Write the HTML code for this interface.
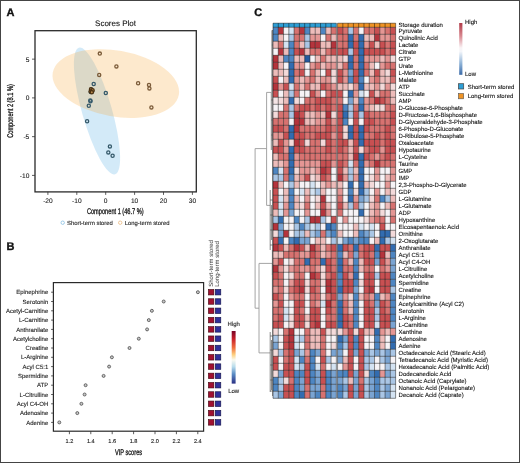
<!DOCTYPE html>
<html><head><meta charset="utf-8"><title>Figure</title>
<style>html,body{margin:0;padding:0;background:#fff;}body{width:520px;height:463px;overflow:hidden;font-family:"Liberation Sans", sans-serif;}svg{display:block;-webkit-font-smoothing:antialiased;will-change:transform;filter:blur(0.25px);}text{text-rendering:geometricPrecision;}</style>
</head><body>
<svg width="520" height="463" viewBox="0 0 520 463" font-family='"Liberation Sans", sans-serif'><rect x="0" y="0" width="520" height="463" fill="#fff"/><text x="6.60" y="16.00" font-size="11" text-anchor="start" font-weight="bold" fill="#111" stroke="#111" stroke-width="0.35" >A</text><text x="115.50" y="25.60" font-size="8" text-anchor="middle" font-weight="normal" fill="#111" stroke="#111" stroke-width="0.1" >Scores Plot</text><ellipse cx="97" cy="111" rx="65.8" ry="14.9" transform="rotate(74 97 111)" fill="#4fabe3" fill-opacity="0.25"/><ellipse cx="115.8" cy="83.6" rx="64" ry="33" transform="rotate(10 115.8 83.6)" fill="#f7a638" fill-opacity="0.25"/><circle cx="93.7" cy="84" r="1.6" fill="none" stroke="#35596a" stroke-width="1.3"/><circle cx="105.8" cy="93" r="1.6" fill="none" stroke="#35596a" stroke-width="1.3"/><circle cx="90.3" cy="100.4" r="1.6" fill="none" stroke="#35596a" stroke-width="1.3"/><circle cx="90.5" cy="101.2" r="1.6" fill="none" stroke="#35596a" stroke-width="1.3"/><circle cx="88.8" cy="105.7" r="1.6" fill="none" stroke="#35596a" stroke-width="1.3"/><circle cx="87.1" cy="121.2" r="1.6" fill="none" stroke="#35596a" stroke-width="1.3"/><circle cx="109.9" cy="146.4" r="1.6" fill="none" stroke="#35596a" stroke-width="1.3"/><circle cx="108.3" cy="152.4" r="1.6" fill="none" stroke="#35596a" stroke-width="1.3"/><circle cx="112.6" cy="155.8" r="1.6" fill="none" stroke="#35596a" stroke-width="1.3"/><circle cx="91.2" cy="89.6" r="1.6" fill="none" stroke="#35596a" stroke-width="1.3"/><circle cx="92.2" cy="91.5" r="1.6" fill="none" stroke="#35596a" stroke-width="1.3"/><circle cx="90.8" cy="92.0" r="1.6" fill="none" stroke="#35596a" stroke-width="1.3"/><circle cx="99.8" cy="53.6" r="1.6" fill="none" stroke="#7a5a38" stroke-width="1.3"/><circle cx="116.4" cy="66.4" r="1.6" fill="none" stroke="#7a5a38" stroke-width="1.3"/><circle cx="99.2" cy="74.9" r="1.6" fill="none" stroke="#7a5a38" stroke-width="1.3"/><circle cx="138.1" cy="83.2" r="1.6" fill="none" stroke="#7a5a38" stroke-width="1.3"/><circle cx="149" cy="84.9" r="1.6" fill="none" stroke="#7a5a38" stroke-width="1.3"/><circle cx="149.4" cy="88.4" r="1.6" fill="none" stroke="#7a5a38" stroke-width="1.3"/><circle cx="151.4" cy="107.4" r="1.6" fill="none" stroke="#7a5a38" stroke-width="1.3"/><circle cx="91.0" cy="89.3" r="1.6" fill="#b88a50" stroke="#4a3012" stroke-width="1.3"/><circle cx="92.6" cy="90.2" r="1.6" fill="#b88a50" stroke="#4a3012" stroke-width="1.3"/><circle cx="90.6" cy="91.6" r="1.6" fill="#b88a50" stroke="#4a3012" stroke-width="1.3"/><circle cx="91.8" cy="92.3" r="1.6" fill="#b88a50" stroke="#4a3012" stroke-width="1.3"/><rect x="35.0" y="30.7" width="161.3" height="161.20000000000002" fill="none" stroke="#2a2a2a" stroke-width="1.3"/><line x1="47.90" y1="191.9" x2="47.90" y2="194.9" stroke="#333" stroke-width="0.8"/><text x="47.90" y="203.30" font-size="6.6" text-anchor="middle" font-weight="normal" fill="#1a1a1a" stroke="#1a1a1a" stroke-width="0.1" >-20</text><line x1="76.80" y1="191.9" x2="76.80" y2="194.9" stroke="#333" stroke-width="0.8"/><text x="76.80" y="203.30" font-size="6.6" text-anchor="middle" font-weight="normal" fill="#1a1a1a" stroke="#1a1a1a" stroke-width="0.1" >-10</text><line x1="105.70" y1="191.9" x2="105.70" y2="194.9" stroke="#333" stroke-width="0.8"/><text x="105.70" y="203.30" font-size="6.6" text-anchor="middle" font-weight="normal" fill="#1a1a1a" stroke="#1a1a1a" stroke-width="0.1" >0</text><line x1="134.60" y1="191.9" x2="134.60" y2="194.9" stroke="#333" stroke-width="0.8"/><text x="134.60" y="203.30" font-size="6.6" text-anchor="middle" font-weight="normal" fill="#1a1a1a" stroke="#1a1a1a" stroke-width="0.1" >10</text><line x1="163.50" y1="191.9" x2="163.50" y2="194.9" stroke="#333" stroke-width="0.8"/><text x="163.50" y="203.30" font-size="6.6" text-anchor="middle" font-weight="normal" fill="#1a1a1a" stroke="#1a1a1a" stroke-width="0.1" >20</text><line x1="192.40" y1="191.9" x2="192.40" y2="194.9" stroke="#333" stroke-width="0.8"/><text x="192.40" y="203.30" font-size="6.6" text-anchor="middle" font-weight="normal" fill="#1a1a1a" stroke="#1a1a1a" stroke-width="0.1" >30</text><line x1="32.0" y1="59.15" x2="35.0" y2="59.15" stroke="#333" stroke-width="0.8"/><text x="29.30" y="61.53" font-size="6.6" text-anchor="end" font-weight="normal" fill="#1a1a1a" stroke="#1a1a1a" stroke-width="0.1" >5</text><line x1="32.0" y1="97.90" x2="35.0" y2="97.90" stroke="#333" stroke-width="0.8"/><text x="29.30" y="100.28" font-size="6.6" text-anchor="end" font-weight="normal" fill="#1a1a1a" stroke="#1a1a1a" stroke-width="0.1" >0</text><line x1="32.0" y1="136.65" x2="35.0" y2="136.65" stroke="#333" stroke-width="0.8"/><text x="29.30" y="139.03" font-size="6.6" text-anchor="end" font-weight="normal" fill="#1a1a1a" stroke="#1a1a1a" stroke-width="0.1" >-5</text><line x1="32.0" y1="175.40" x2="35.0" y2="175.40" stroke="#333" stroke-width="0.8"/><text x="29.30" y="177.78" font-size="6.6" text-anchor="end" font-weight="normal" fill="#1a1a1a" stroke="#1a1a1a" stroke-width="0.1" >-10</text><text x="169.56" y="213.9" font-size="8.3" text-anchor="middle" fill="#111" stroke="#111" stroke-width="0.3" transform="scale(0.68,1)">Component 1 (46.7 %)</text><g transform="translate(13.0,111.0) rotate(-90) scale(0.68,1)"><text x="0" y="0" font-size="8.3" text-anchor="middle" fill="#111" stroke="#111" stroke-width="0.3">Component 2 (8.1 %)</text></g><circle cx="62.7" cy="222.7" r="1.7" fill="none" stroke="#7ab8e0" stroke-width="0.7"/><text x="67.00" y="224.80" font-size="5.9" text-anchor="start" font-weight="normal" fill="#1a1a1a" stroke="#1a1a1a" stroke-width="0.1" >Short-term stored</text><circle cx="120.2" cy="222.7" r="1.7" fill="none" stroke="#e8b070" stroke-width="0.7"/><text x="124.70" y="224.80" font-size="5.9" text-anchor="start" font-weight="normal" fill="#1a1a1a" stroke="#1a1a1a" stroke-width="0.1" >Long-term stored</text><text x="6.60" y="250.20" font-size="11" text-anchor="start" font-weight="bold" fill="#111" stroke="#111" stroke-width="0.35" >B</text><line x1="51.1" y1="292.20" x2="53.4" y2="292.20" stroke="#333" stroke-width="0.8"/><text x="48.30" y="294.36" font-size="6.0" text-anchor="end" font-weight="normal" fill="#1a1a1a" stroke="#1a1a1a" stroke-width="0.1" >Epinephrine</text><circle cx="197.9" cy="292.20" r="1.5" fill="#c8c8c8" stroke="#444" stroke-width="0.75"/><rect x="208.4" y="289.45" width="5.5" height="5.5" fill="#a01030" stroke="#40060f" stroke-width="0.6"/><rect x="215.3" y="289.45" width="5.5" height="5.5" fill="#30309a" stroke="#121244" stroke-width="0.6"/><line x1="51.1" y1="301.50" x2="53.4" y2="301.50" stroke="#333" stroke-width="0.8"/><text x="48.30" y="303.66" font-size="6.0" text-anchor="end" font-weight="normal" fill="#1a1a1a" stroke="#1a1a1a" stroke-width="0.1" >Serotonin</text><circle cx="163.7" cy="301.50" r="1.5" fill="#c8c8c8" stroke="#444" stroke-width="0.75"/><rect x="208.4" y="298.75" width="5.5" height="5.5" fill="#a01030" stroke="#40060f" stroke-width="0.6"/><rect x="215.3" y="298.75" width="5.5" height="5.5" fill="#30309a" stroke="#121244" stroke-width="0.6"/><line x1="51.1" y1="310.80" x2="53.4" y2="310.80" stroke="#333" stroke-width="0.8"/><text x="48.30" y="312.96" font-size="6.0" text-anchor="end" font-weight="normal" fill="#1a1a1a" stroke="#1a1a1a" stroke-width="0.1" >Acetyl-Carnitine</text><circle cx="151.9" cy="310.80" r="1.5" fill="#c8c8c8" stroke="#444" stroke-width="0.75"/><rect x="208.4" y="308.05" width="5.5" height="5.5" fill="#a01030" stroke="#40060f" stroke-width="0.6"/><rect x="215.3" y="308.05" width="5.5" height="5.5" fill="#30309a" stroke="#121244" stroke-width="0.6"/><line x1="51.1" y1="320.10" x2="53.4" y2="320.10" stroke="#333" stroke-width="0.8"/><text x="48.30" y="322.26" font-size="6.0" text-anchor="end" font-weight="normal" fill="#1a1a1a" stroke="#1a1a1a" stroke-width="0.1" >L-Carnitine</text><circle cx="148.8" cy="320.10" r="1.5" fill="#c8c8c8" stroke="#444" stroke-width="0.75"/><rect x="208.4" y="317.35" width="5.5" height="5.5" fill="#a01030" stroke="#40060f" stroke-width="0.6"/><rect x="215.3" y="317.35" width="5.5" height="5.5" fill="#30309a" stroke="#121244" stroke-width="0.6"/><line x1="51.1" y1="329.40" x2="53.4" y2="329.40" stroke="#333" stroke-width="0.8"/><text x="48.30" y="331.56" font-size="6.0" text-anchor="end" font-weight="normal" fill="#1a1a1a" stroke="#1a1a1a" stroke-width="0.1" >Anthranilate</text><circle cx="147.1" cy="329.40" r="1.5" fill="#c8c8c8" stroke="#444" stroke-width="0.75"/><rect x="208.4" y="326.65" width="5.5" height="5.5" fill="#a01030" stroke="#40060f" stroke-width="0.6"/><rect x="215.3" y="326.65" width="5.5" height="5.5" fill="#30309a" stroke="#121244" stroke-width="0.6"/><line x1="51.1" y1="338.70" x2="53.4" y2="338.70" stroke="#333" stroke-width="0.8"/><text x="48.30" y="340.86" font-size="6.0" text-anchor="end" font-weight="normal" fill="#1a1a1a" stroke="#1a1a1a" stroke-width="0.1" >Acetylcholine</text><circle cx="138.8" cy="338.70" r="1.5" fill="#c8c8c8" stroke="#444" stroke-width="0.75"/><rect x="208.4" y="335.95" width="5.5" height="5.5" fill="#a01030" stroke="#40060f" stroke-width="0.6"/><rect x="215.3" y="335.95" width="5.5" height="5.5" fill="#30309a" stroke="#121244" stroke-width="0.6"/><line x1="51.1" y1="348.00" x2="53.4" y2="348.00" stroke="#333" stroke-width="0.8"/><text x="48.30" y="350.16" font-size="6.0" text-anchor="end" font-weight="normal" fill="#1a1a1a" stroke="#1a1a1a" stroke-width="0.1" >Creatine</text><circle cx="129.5" cy="348.00" r="1.5" fill="#c8c8c8" stroke="#444" stroke-width="0.75"/><rect x="208.4" y="345.25" width="5.5" height="5.5" fill="#a01030" stroke="#40060f" stroke-width="0.6"/><rect x="215.3" y="345.25" width="5.5" height="5.5" fill="#30309a" stroke="#121244" stroke-width="0.6"/><line x1="51.1" y1="357.30" x2="53.4" y2="357.30" stroke="#333" stroke-width="0.8"/><text x="48.30" y="359.46" font-size="6.0" text-anchor="end" font-weight="normal" fill="#1a1a1a" stroke="#1a1a1a" stroke-width="0.1" >L-Arginine</text><circle cx="111.9" cy="357.30" r="1.5" fill="#c8c8c8" stroke="#444" stroke-width="0.75"/><rect x="208.4" y="354.55" width="5.5" height="5.5" fill="#a01030" stroke="#40060f" stroke-width="0.6"/><rect x="215.3" y="354.55" width="5.5" height="5.5" fill="#30309a" stroke="#121244" stroke-width="0.6"/><line x1="51.1" y1="366.60" x2="53.4" y2="366.60" stroke="#333" stroke-width="0.8"/><text x="48.30" y="368.76" font-size="6.0" text-anchor="end" font-weight="normal" fill="#1a1a1a" stroke="#1a1a1a" stroke-width="0.1" >Acyl C5:1</text><circle cx="109.1" cy="366.60" r="1.5" fill="#c8c8c8" stroke="#444" stroke-width="0.75"/><rect x="208.4" y="363.85" width="5.5" height="5.5" fill="#a01030" stroke="#40060f" stroke-width="0.6"/><rect x="215.3" y="363.85" width="5.5" height="5.5" fill="#30309a" stroke="#121244" stroke-width="0.6"/><line x1="51.1" y1="375.90" x2="53.4" y2="375.90" stroke="#333" stroke-width="0.8"/><text x="48.30" y="378.06" font-size="6.0" text-anchor="end" font-weight="normal" fill="#1a1a1a" stroke="#1a1a1a" stroke-width="0.1" >Spermidine</text><circle cx="103.6" cy="375.90" r="1.5" fill="#c8c8c8" stroke="#444" stroke-width="0.75"/><rect x="208.4" y="373.15" width="5.5" height="5.5" fill="#a01030" stroke="#40060f" stroke-width="0.6"/><rect x="215.3" y="373.15" width="5.5" height="5.5" fill="#30309a" stroke="#121244" stroke-width="0.6"/><line x1="51.1" y1="385.20" x2="53.4" y2="385.20" stroke="#333" stroke-width="0.8"/><text x="48.30" y="387.36" font-size="6.0" text-anchor="end" font-weight="normal" fill="#1a1a1a" stroke="#1a1a1a" stroke-width="0.1" >ATP</text><circle cx="85.6" cy="385.20" r="1.5" fill="#c8c8c8" stroke="#444" stroke-width="0.75"/><rect x="208.4" y="382.45" width="5.5" height="5.5" fill="#a01030" stroke="#40060f" stroke-width="0.6"/><rect x="215.3" y="382.45" width="5.5" height="5.5" fill="#30309a" stroke="#121244" stroke-width="0.6"/><line x1="51.1" y1="394.50" x2="53.4" y2="394.50" stroke="#333" stroke-width="0.8"/><text x="48.30" y="396.66" font-size="6.0" text-anchor="end" font-weight="normal" fill="#1a1a1a" stroke="#1a1a1a" stroke-width="0.1" >L-Citrulline</text><circle cx="84.6" cy="394.50" r="1.5" fill="#c8c8c8" stroke="#444" stroke-width="0.75"/><rect x="208.4" y="391.75" width="5.5" height="5.5" fill="#a01030" stroke="#40060f" stroke-width="0.6"/><rect x="215.3" y="391.75" width="5.5" height="5.5" fill="#30309a" stroke="#121244" stroke-width="0.6"/><line x1="51.1" y1="403.80" x2="53.4" y2="403.80" stroke="#333" stroke-width="0.8"/><text x="48.30" y="405.96" font-size="6.0" text-anchor="end" font-weight="normal" fill="#1a1a1a" stroke="#1a1a1a" stroke-width="0.1" >Acyl C4-OH</text><circle cx="81.4" cy="403.80" r="1.5" fill="#c8c8c8" stroke="#444" stroke-width="0.75"/><rect x="208.4" y="401.05" width="5.5" height="5.5" fill="#a01030" stroke="#40060f" stroke-width="0.6"/><rect x="215.3" y="401.05" width="5.5" height="5.5" fill="#30309a" stroke="#121244" stroke-width="0.6"/><line x1="51.1" y1="413.10" x2="53.4" y2="413.10" stroke="#333" stroke-width="0.8"/><text x="48.30" y="415.26" font-size="6.0" text-anchor="end" font-weight="normal" fill="#1a1a1a" stroke="#1a1a1a" stroke-width="0.1" >Adenosine</text><circle cx="77.3" cy="413.10" r="1.5" fill="#c8c8c8" stroke="#444" stroke-width="0.75"/><rect x="208.4" y="410.35" width="5.5" height="5.5" fill="#a01030" stroke="#40060f" stroke-width="0.6"/><rect x="215.3" y="410.35" width="5.5" height="5.5" fill="#30309a" stroke="#121244" stroke-width="0.6"/><line x1="51.1" y1="422.40" x2="53.4" y2="422.40" stroke="#333" stroke-width="0.8"/><text x="48.30" y="424.56" font-size="6.0" text-anchor="end" font-weight="normal" fill="#1a1a1a" stroke="#1a1a1a" stroke-width="0.1" >Adenine</text><circle cx="59.3" cy="422.40" r="1.5" fill="#c8c8c8" stroke="#444" stroke-width="0.75"/><rect x="208.4" y="419.65" width="5.5" height="5.5" fill="#a01030" stroke="#40060f" stroke-width="0.6"/><rect x="215.3" y="419.65" width="5.5" height="5.5" fill="#30309a" stroke="#121244" stroke-width="0.6"/><rect x="53.4" y="282.6" width="150.2" height="148.59999999999997" fill="none" stroke="#2a2a2a" stroke-width="1.2"/><line x1="69.40" y1="431.2" x2="69.40" y2="434.2" stroke="#333" stroke-width="0.8"/><text x="69.40" y="442.60" font-size="5.6" text-anchor="middle" font-weight="normal" fill="#1a1a1a" stroke="#1a1a1a" stroke-width="0.1" >1.2</text><line x1="90.80" y1="431.2" x2="90.80" y2="434.2" stroke="#333" stroke-width="0.8"/><text x="90.80" y="442.60" font-size="5.6" text-anchor="middle" font-weight="normal" fill="#1a1a1a" stroke="#1a1a1a" stroke-width="0.1" >1.4</text><line x1="112.20" y1="431.2" x2="112.20" y2="434.2" stroke="#333" stroke-width="0.8"/><text x="112.20" y="442.60" font-size="5.6" text-anchor="middle" font-weight="normal" fill="#1a1a1a" stroke="#1a1a1a" stroke-width="0.1" >1.6</text><line x1="133.60" y1="431.2" x2="133.60" y2="434.2" stroke="#333" stroke-width="0.8"/><text x="133.60" y="442.60" font-size="5.6" text-anchor="middle" font-weight="normal" fill="#1a1a1a" stroke="#1a1a1a" stroke-width="0.1" >1.8</text><line x1="155.00" y1="431.2" x2="155.00" y2="434.2" stroke="#333" stroke-width="0.8"/><text x="155.00" y="442.60" font-size="5.6" text-anchor="middle" font-weight="normal" fill="#1a1a1a" stroke="#1a1a1a" stroke-width="0.1" >2.0</text><line x1="176.40" y1="431.2" x2="176.40" y2="434.2" stroke="#333" stroke-width="0.8"/><text x="176.40" y="442.60" font-size="5.6" text-anchor="middle" font-weight="normal" fill="#1a1a1a" stroke="#1a1a1a" stroke-width="0.1" >2.2</text><line x1="197.80" y1="431.2" x2="197.80" y2="434.2" stroke="#333" stroke-width="0.8"/><text x="197.80" y="442.60" font-size="5.6" text-anchor="middle" font-weight="normal" fill="#1a1a1a" stroke="#1a1a1a" stroke-width="0.1" >2.4</text><text x="188.97" y="454.9" font-size="8.3" text-anchor="middle" fill="#111" stroke="#111" stroke-width="0.3" transform="scale(0.68,1)">VIP scores</text><text x="0" y="0" font-size="6.0" fill="#333" transform="translate(212.6,286.8) rotate(-90)">Short-term stored</text><text x="0" y="0" font-size="6.0" fill="#333" transform="translate(219.3,286.8) rotate(-90)">Long-term stored</text><defs><linearGradient id="rdylbu" x1="0" y1="0" x2="0" y2="1"><stop offset="0" stop-color="#7a0426"/><stop offset="0.15" stop-color="#c8202a"/><stop offset="0.32" stop-color="#f07040"/><stop offset="0.45" stop-color="#fdd080"/><stop offset="0.55" stop-color="#fafaf0"/><stop offset="0.68" stop-color="#b8dcec"/><stop offset="0.82" stop-color="#5a8cc4"/><stop offset="1" stop-color="#2a2f84"/></linearGradient><linearGradient id="rwb" x1="0" y1="0" x2="0" y2="1"><stop offset="0" stop-color="#b03a48"/><stop offset="0.25" stop-color="#d88890"/><stop offset="0.48" stop-color="#faf4f6"/><stop offset="0.55" stop-color="#f4f6fa"/><stop offset="0.78" stop-color="#90b4d8"/><stop offset="1" stop-color="#3a6aa8"/></linearGradient></defs><rect x="231.7" y="331.0" width="3.9" height="52.60000000000002" fill="url(#rdylbu)"/><text x="233.65" y="325.70" font-size="6.0" text-anchor="middle" font-weight="normal" fill="#1a1a1a" stroke="#1a1a1a" stroke-width="0.1" >High</text><text x="233.65" y="393.10" font-size="6.0" text-anchor="middle" font-weight="normal" fill="#1a1a1a" stroke="#1a1a1a" stroke-width="0.1" >Low</text><text x="254.30" y="15.50" font-size="11" text-anchor="start" font-weight="bold" fill="#111" stroke="#111" stroke-width="0.35" >C</text><rect x="273.0" y="23.2" width="63.36" height="4.100000000000001" fill="#2e9fd6"/><rect x="337.56" y="23.2" width="58.080000000000005" height="4.100000000000001" fill="#ef9426"/><rect x="273.00" y="27.30" width="5.28" height="7.00" fill="#4e86c2"/><rect x="278.28" y="27.30" width="5.28" height="7.00" fill="#b4343c"/><rect x="283.56" y="27.30" width="5.28" height="7.00" fill="#f6f3f6"/><rect x="288.84" y="27.30" width="5.28" height="7.00" fill="#d4e3f2"/><rect x="294.12" y="27.30" width="5.28" height="7.00" fill="#d77270"/><rect x="299.40" y="27.30" width="5.28" height="7.00" fill="#b4343c"/><rect x="304.68" y="27.30" width="5.28" height="7.00" fill="#4e86c2"/><rect x="309.96" y="27.30" width="5.28" height="7.00" fill="#edbcba"/><rect x="315.24" y="27.30" width="5.28" height="7.00" fill="#edbcba"/><rect x="320.52" y="27.30" width="5.28" height="7.00" fill="#4e86c2"/><rect x="325.80" y="27.30" width="5.28" height="7.00" fill="#edbcba"/><rect x="331.08" y="27.30" width="5.28" height="7.00" fill="#d77270"/><rect x="337.56" y="27.30" width="5.28" height="7.00" fill="#c85052"/><rect x="342.84" y="27.30" width="5.28" height="7.00" fill="#d77270"/><rect x="348.12" y="27.30" width="5.28" height="7.00" fill="#aac6e5"/><rect x="353.40" y="27.30" width="5.28" height="7.00" fill="#d77270"/><rect x="358.68" y="27.30" width="5.28" height="7.00" fill="#f6f3f6"/><rect x="363.96" y="27.30" width="5.28" height="7.00" fill="#d77270"/><rect x="369.24" y="27.30" width="5.28" height="7.00" fill="#d77270"/><rect x="374.52" y="27.30" width="5.28" height="7.00" fill="#c85052"/><rect x="379.80" y="27.30" width="5.28" height="7.00" fill="#e49694"/><rect x="385.08" y="27.30" width="5.28" height="7.00" fill="#d77270"/><rect x="390.36" y="27.30" width="5.28" height="7.00" fill="#c85052"/><rect x="273.00" y="34.30" width="5.28" height="7.00" fill="#4e86c2"/><rect x="278.28" y="34.30" width="5.28" height="7.00" fill="#edbcba"/><rect x="283.56" y="34.30" width="5.28" height="7.00" fill="#f6f3f6"/><rect x="288.84" y="34.30" width="5.28" height="7.00" fill="#aac6e5"/><rect x="294.12" y="34.30" width="5.28" height="7.00" fill="#d77270"/><rect x="299.40" y="34.30" width="5.28" height="7.00" fill="#d77270"/><rect x="304.68" y="34.30" width="5.28" height="7.00" fill="#aac6e5"/><rect x="309.96" y="34.30" width="5.28" height="7.00" fill="#e49694"/><rect x="315.24" y="34.30" width="5.28" height="7.00" fill="#e49694"/><rect x="320.52" y="34.30" width="5.28" height="7.00" fill="#f6f3f6"/><rect x="325.80" y="34.30" width="5.28" height="7.00" fill="#d77270"/><rect x="331.08" y="34.30" width="5.28" height="7.00" fill="#edbcba"/><rect x="337.56" y="34.30" width="5.28" height="7.00" fill="#d77270"/><rect x="342.84" y="34.30" width="5.28" height="7.00" fill="#d77270"/><rect x="348.12" y="34.30" width="5.28" height="7.00" fill="#326cb0"/><rect x="353.40" y="34.30" width="5.28" height="7.00" fill="#d77270"/><rect x="358.68" y="34.30" width="5.28" height="7.00" fill="#326cb0"/><rect x="363.96" y="34.30" width="5.28" height="7.00" fill="#edbcba"/><rect x="369.24" y="34.30" width="5.28" height="7.00" fill="#edbcba"/><rect x="374.52" y="34.30" width="5.28" height="7.00" fill="#b4343c"/><rect x="379.80" y="34.30" width="5.28" height="7.00" fill="#e49694"/><rect x="385.08" y="34.30" width="5.28" height="7.00" fill="#e49694"/><rect x="390.36" y="34.30" width="5.28" height="7.00" fill="#d77270"/><rect x="273.00" y="41.30" width="5.28" height="7.00" fill="#edbcba"/><rect x="278.28" y="41.30" width="5.28" height="7.00" fill="#d77270"/><rect x="283.56" y="41.30" width="5.28" height="7.00" fill="#d4e3f2"/><rect x="288.84" y="41.30" width="5.28" height="7.00" fill="#4e86c2"/><rect x="294.12" y="41.30" width="5.28" height="7.00" fill="#d77270"/><rect x="299.40" y="41.30" width="5.28" height="7.00" fill="#edbcba"/><rect x="304.68" y="41.30" width="5.28" height="7.00" fill="#aac6e5"/><rect x="309.96" y="41.30" width="5.28" height="7.00" fill="#b4343c"/><rect x="315.24" y="41.30" width="5.28" height="7.00" fill="#b4343c"/><rect x="320.52" y="41.30" width="5.28" height="7.00" fill="#edbcba"/><rect x="325.80" y="41.30" width="5.28" height="7.00" fill="#edbcba"/><rect x="331.08" y="41.30" width="5.28" height="7.00" fill="#b4343c"/><rect x="337.56" y="41.30" width="5.28" height="7.00" fill="#d77270"/><rect x="342.84" y="41.30" width="5.28" height="7.00" fill="#d77270"/><rect x="348.12" y="41.30" width="5.28" height="7.00" fill="#326cb0"/><rect x="353.40" y="41.30" width="5.28" height="7.00" fill="#c85052"/><rect x="358.68" y="41.30" width="5.28" height="7.00" fill="#326cb0"/><rect x="363.96" y="41.30" width="5.28" height="7.00" fill="#e49694"/><rect x="369.24" y="41.30" width="5.28" height="7.00" fill="#c85052"/><rect x="374.52" y="41.30" width="5.28" height="7.00" fill="#edbcba"/><rect x="379.80" y="41.30" width="5.28" height="7.00" fill="#c85052"/><rect x="385.08" y="41.30" width="5.28" height="7.00" fill="#d77270"/><rect x="390.36" y="41.30" width="5.28" height="7.00" fill="#c85052"/><rect x="273.00" y="48.30" width="5.28" height="7.00" fill="#f6f3f6"/><rect x="278.28" y="48.30" width="5.28" height="7.00" fill="#b4343c"/><rect x="283.56" y="48.30" width="5.28" height="7.00" fill="#edbcba"/><rect x="288.84" y="48.30" width="5.28" height="7.00" fill="#4e86c2"/><rect x="294.12" y="48.30" width="5.28" height="7.00" fill="#c85052"/><rect x="299.40" y="48.30" width="5.28" height="7.00" fill="#b4343c"/><rect x="304.68" y="48.30" width="5.28" height="7.00" fill="#edbcba"/><rect x="309.96" y="48.30" width="5.28" height="7.00" fill="#d77270"/><rect x="315.24" y="48.30" width="5.28" height="7.00" fill="#d77270"/><rect x="320.52" y="48.30" width="5.28" height="7.00" fill="#edbcba"/><rect x="325.80" y="48.30" width="5.28" height="7.00" fill="#d77270"/><rect x="331.08" y="48.30" width="5.28" height="7.00" fill="#c85052"/><rect x="337.56" y="48.30" width="5.28" height="7.00" fill="#c85052"/><rect x="342.84" y="48.30" width="5.28" height="7.00" fill="#c85052"/><rect x="348.12" y="48.30" width="5.28" height="7.00" fill="#aac6e5"/><rect x="353.40" y="48.30" width="5.28" height="7.00" fill="#c85052"/><rect x="358.68" y="48.30" width="5.28" height="7.00" fill="#326cb0"/><rect x="363.96" y="48.30" width="5.28" height="7.00" fill="#c85052"/><rect x="369.24" y="48.30" width="5.28" height="7.00" fill="#c85052"/><rect x="374.52" y="48.30" width="5.28" height="7.00" fill="#c85052"/><rect x="379.80" y="48.30" width="5.28" height="7.00" fill="#c85052"/><rect x="385.08" y="48.30" width="5.28" height="7.00" fill="#d77270"/><rect x="390.36" y="48.30" width="5.28" height="7.00" fill="#c85052"/><rect x="273.00" y="55.30" width="5.28" height="7.00" fill="#b4343c"/><rect x="278.28" y="55.30" width="5.28" height="7.00" fill="#edbcba"/><rect x="283.56" y="55.30" width="5.28" height="7.00" fill="#4e86c2"/><rect x="288.84" y="55.30" width="5.28" height="7.00" fill="#4e86c2"/><rect x="294.12" y="55.30" width="5.28" height="7.00" fill="#edbcba"/><rect x="299.40" y="55.30" width="5.28" height="7.00" fill="#edbcba"/><rect x="304.68" y="55.30" width="5.28" height="7.00" fill="#245a9e"/><rect x="309.96" y="55.30" width="5.28" height="7.00" fill="#f6f3f6"/><rect x="315.24" y="55.30" width="5.28" height="7.00" fill="#edbcba"/><rect x="320.52" y="55.30" width="5.28" height="7.00" fill="#d77270"/><rect x="325.80" y="55.30" width="5.28" height="7.00" fill="#edbcba"/><rect x="331.08" y="55.30" width="5.28" height="7.00" fill="#edbcba"/><rect x="337.56" y="55.30" width="5.28" height="7.00" fill="#edbcba"/><rect x="342.84" y="55.30" width="5.28" height="7.00" fill="#f3dada"/><rect x="348.12" y="55.30" width="5.28" height="7.00" fill="#326cb0"/><rect x="353.40" y="55.30" width="5.28" height="7.00" fill="#d77270"/><rect x="358.68" y="55.30" width="5.28" height="7.00" fill="#326cb0"/><rect x="363.96" y="55.30" width="5.28" height="7.00" fill="#e49694"/><rect x="369.24" y="55.30" width="5.28" height="7.00" fill="#e49694"/><rect x="374.52" y="55.30" width="5.28" height="7.00" fill="#e49694"/><rect x="379.80" y="55.30" width="5.28" height="7.00" fill="#edbcba"/><rect x="385.08" y="55.30" width="5.28" height="7.00" fill="#e49694"/><rect x="390.36" y="55.30" width="5.28" height="7.00" fill="#f3dada"/><rect x="273.00" y="62.30" width="5.28" height="7.00" fill="#b4343c"/><rect x="278.28" y="62.30" width="5.28" height="7.00" fill="#edbcba"/><rect x="283.56" y="62.30" width="5.28" height="7.00" fill="#f6f3f6"/><rect x="288.84" y="62.30" width="5.28" height="7.00" fill="#326cb0"/><rect x="294.12" y="62.30" width="5.28" height="7.00" fill="#e49694"/><rect x="299.40" y="62.30" width="5.28" height="7.00" fill="#e49694"/><rect x="304.68" y="62.30" width="5.28" height="7.00" fill="#f6f3f6"/><rect x="309.96" y="62.30" width="5.28" height="7.00" fill="#e49694"/><rect x="315.24" y="62.30" width="5.28" height="7.00" fill="#d77270"/><rect x="320.52" y="62.30" width="5.28" height="7.00" fill="#edbcba"/><rect x="325.80" y="62.30" width="5.28" height="7.00" fill="#e49694"/><rect x="331.08" y="62.30" width="5.28" height="7.00" fill="#e49694"/><rect x="337.56" y="62.30" width="5.28" height="7.00" fill="#edbcba"/><rect x="342.84" y="62.30" width="5.28" height="7.00" fill="#d77270"/><rect x="348.12" y="62.30" width="5.28" height="7.00" fill="#326cb0"/><rect x="353.40" y="62.30" width="5.28" height="7.00" fill="#d77270"/><rect x="358.68" y="62.30" width="5.28" height="7.00" fill="#326cb0"/><rect x="363.96" y="62.30" width="5.28" height="7.00" fill="#d77270"/><rect x="369.24" y="62.30" width="5.28" height="7.00" fill="#edbcba"/><rect x="374.52" y="62.30" width="5.28" height="7.00" fill="#f6f3f6"/><rect x="379.80" y="62.30" width="5.28" height="7.00" fill="#e49694"/><rect x="385.08" y="62.30" width="5.28" height="7.00" fill="#d77270"/><rect x="390.36" y="62.30" width="5.28" height="7.00" fill="#d77270"/><rect x="273.00" y="69.30" width="5.28" height="7.00" fill="#edbcba"/><rect x="278.28" y="69.30" width="5.28" height="7.00" fill="#edbcba"/><rect x="283.56" y="69.30" width="5.28" height="7.00" fill="#f3dada"/><rect x="288.84" y="69.30" width="5.28" height="7.00" fill="#326cb0"/><rect x="294.12" y="69.30" width="5.28" height="7.00" fill="#d77270"/><rect x="299.40" y="69.30" width="5.28" height="7.00" fill="#c85052"/><rect x="304.68" y="69.30" width="5.28" height="7.00" fill="#f6f3f6"/><rect x="309.96" y="69.30" width="5.28" height="7.00" fill="#d77270"/><rect x="315.24" y="69.30" width="5.28" height="7.00" fill="#edbcba"/><rect x="320.52" y="69.30" width="5.28" height="7.00" fill="#f6f3f6"/><rect x="325.80" y="69.30" width="5.28" height="7.00" fill="#c85052"/><rect x="331.08" y="69.30" width="5.28" height="7.00" fill="#f3dada"/><rect x="337.56" y="69.30" width="5.28" height="7.00" fill="#c85052"/><rect x="342.84" y="69.30" width="5.28" height="7.00" fill="#e49694"/><rect x="348.12" y="69.30" width="5.28" height="7.00" fill="#7aa4d2"/><rect x="353.40" y="69.30" width="5.28" height="7.00" fill="#c85052"/><rect x="358.68" y="69.30" width="5.28" height="7.00" fill="#326cb0"/><rect x="363.96" y="69.30" width="5.28" height="7.00" fill="#d77270"/><rect x="369.24" y="69.30" width="5.28" height="7.00" fill="#edbcba"/><rect x="374.52" y="69.30" width="5.28" height="7.00" fill="#c85052"/><rect x="379.80" y="69.30" width="5.28" height="7.00" fill="#edbcba"/><rect x="385.08" y="69.30" width="5.28" height="7.00" fill="#f3dada"/><rect x="390.36" y="69.30" width="5.28" height="7.00" fill="#c85052"/><rect x="273.00" y="76.30" width="5.28" height="7.00" fill="#c85052"/><rect x="278.28" y="76.30" width="5.28" height="7.00" fill="#f6f3f6"/><rect x="283.56" y="76.30" width="5.28" height="7.00" fill="#edbcba"/><rect x="288.84" y="76.30" width="5.28" height="7.00" fill="#326cb0"/><rect x="294.12" y="76.30" width="5.28" height="7.00" fill="#e49694"/><rect x="299.40" y="76.30" width="5.28" height="7.00" fill="#edbcba"/><rect x="304.68" y="76.30" width="5.28" height="7.00" fill="#e49694"/><rect x="309.96" y="76.30" width="5.28" height="7.00" fill="#d77270"/><rect x="315.24" y="76.30" width="5.28" height="7.00" fill="#edbcba"/><rect x="320.52" y="76.30" width="5.28" height="7.00" fill="#e49694"/><rect x="325.80" y="76.30" width="5.28" height="7.00" fill="#e49694"/><rect x="331.08" y="76.30" width="5.28" height="7.00" fill="#f3dada"/><rect x="337.56" y="76.30" width="5.28" height="7.00" fill="#c85052"/><rect x="342.84" y="76.30" width="5.28" height="7.00" fill="#e49694"/><rect x="348.12" y="76.30" width="5.28" height="7.00" fill="#4e86c2"/><rect x="353.40" y="76.30" width="5.28" height="7.00" fill="#c85052"/><rect x="358.68" y="76.30" width="5.28" height="7.00" fill="#4e86c2"/><rect x="363.96" y="76.30" width="5.28" height="7.00" fill="#f6f3f6"/><rect x="369.24" y="76.30" width="5.28" height="7.00" fill="#e49694"/><rect x="374.52" y="76.30" width="5.28" height="7.00" fill="#d77270"/><rect x="379.80" y="76.30" width="5.28" height="7.00" fill="#edbcba"/><rect x="385.08" y="76.30" width="5.28" height="7.00" fill="#edbcba"/><rect x="390.36" y="76.30" width="5.28" height="7.00" fill="#d77270"/><rect x="273.00" y="83.30" width="5.28" height="7.00" fill="#b4343c"/><rect x="278.28" y="83.30" width="5.28" height="7.00" fill="#e49694"/><rect x="283.56" y="83.30" width="5.28" height="7.00" fill="#c85052"/><rect x="288.84" y="83.30" width="5.28" height="7.00" fill="#d4e3f2"/><rect x="294.12" y="83.30" width="5.28" height="7.00" fill="#d77270"/><rect x="299.40" y="83.30" width="5.28" height="7.00" fill="#edbcba"/><rect x="304.68" y="83.30" width="5.28" height="7.00" fill="#d77270"/><rect x="309.96" y="83.30" width="5.28" height="7.00" fill="#edbcba"/><rect x="315.24" y="83.30" width="5.28" height="7.00" fill="#edbcba"/><rect x="320.52" y="83.30" width="5.28" height="7.00" fill="#c85052"/><rect x="325.80" y="83.30" width="5.28" height="7.00" fill="#d77270"/><rect x="331.08" y="83.30" width="5.28" height="7.00" fill="#e49694"/><rect x="337.56" y="83.30" width="5.28" height="7.00" fill="#edbcba"/><rect x="342.84" y="83.30" width="5.28" height="7.00" fill="#edbcba"/><rect x="348.12" y="83.30" width="5.28" height="7.00" fill="#f3dada"/><rect x="353.40" y="83.30" width="5.28" height="7.00" fill="#e49694"/><rect x="358.68" y="83.30" width="5.28" height="7.00" fill="#326cb0"/><rect x="363.96" y="83.30" width="5.28" height="7.00" fill="#edbcba"/><rect x="369.24" y="83.30" width="5.28" height="7.00" fill="#edbcba"/><rect x="374.52" y="83.30" width="5.28" height="7.00" fill="#e49694"/><rect x="379.80" y="83.30" width="5.28" height="7.00" fill="#f3dada"/><rect x="385.08" y="83.30" width="5.28" height="7.00" fill="#e49694"/><rect x="390.36" y="83.30" width="5.28" height="7.00" fill="#f3dada"/><rect x="273.00" y="90.30" width="5.28" height="7.00" fill="#c85052"/><rect x="278.28" y="90.30" width="5.28" height="7.00" fill="#f6f3f6"/><rect x="283.56" y="90.30" width="5.28" height="7.00" fill="#edbcba"/><rect x="288.84" y="90.30" width="5.28" height="7.00" fill="#aac6e5"/><rect x="294.12" y="90.30" width="5.28" height="7.00" fill="#d77270"/><rect x="299.40" y="90.30" width="5.28" height="7.00" fill="#f6f3f6"/><rect x="304.68" y="90.30" width="5.28" height="7.00" fill="#f6f3f6"/><rect x="309.96" y="90.30" width="5.28" height="7.00" fill="#c85052"/><rect x="315.24" y="90.30" width="5.28" height="7.00" fill="#e49694"/><rect x="320.52" y="90.30" width="5.28" height="7.00" fill="#f6f3f6"/><rect x="325.80" y="90.30" width="5.28" height="7.00" fill="#d77270"/><rect x="331.08" y="90.30" width="5.28" height="7.00" fill="#c85052"/><rect x="337.56" y="90.30" width="5.28" height="7.00" fill="#c85052"/><rect x="342.84" y="90.30" width="5.28" height="7.00" fill="#f6f3f6"/><rect x="348.12" y="90.30" width="5.28" height="7.00" fill="#326cb0"/><rect x="353.40" y="90.30" width="5.28" height="7.00" fill="#e49694"/><rect x="358.68" y="90.30" width="5.28" height="7.00" fill="#d4e3f2"/><rect x="363.96" y="90.30" width="5.28" height="7.00" fill="#f6f3f6"/><rect x="369.24" y="90.30" width="5.28" height="7.00" fill="#c85052"/><rect x="374.52" y="90.30" width="5.28" height="7.00" fill="#edbcba"/><rect x="379.80" y="90.30" width="5.28" height="7.00" fill="#d77270"/><rect x="385.08" y="90.30" width="5.28" height="7.00" fill="#d77270"/><rect x="390.36" y="90.30" width="5.28" height="7.00" fill="#edbcba"/><rect x="273.00" y="97.30" width="5.28" height="7.00" fill="#f4e4e5"/><rect x="278.28" y="97.30" width="5.28" height="7.00" fill="#f3dada"/><rect x="283.56" y="97.30" width="5.28" height="7.00" fill="#edbcba"/><rect x="288.84" y="97.30" width="5.28" height="7.00" fill="#326cb0"/><rect x="294.12" y="97.30" width="5.28" height="7.00" fill="#f3dada"/><rect x="299.40" y="97.30" width="5.28" height="7.00" fill="#f6f3f6"/><rect x="304.68" y="97.30" width="5.28" height="7.00" fill="#d77270"/><rect x="309.96" y="97.30" width="5.28" height="7.00" fill="#d77270"/><rect x="315.24" y="97.30" width="5.28" height="7.00" fill="#c85052"/><rect x="320.52" y="97.30" width="5.28" height="7.00" fill="#c85052"/><rect x="325.80" y="97.30" width="5.28" height="7.00" fill="#c85052"/><rect x="331.08" y="97.30" width="5.28" height="7.00" fill="#d77270"/><rect x="337.56" y="97.30" width="5.28" height="7.00" fill="#d77270"/><rect x="342.84" y="97.30" width="5.28" height="7.00" fill="#f6f3f6"/><rect x="348.12" y="97.30" width="5.28" height="7.00" fill="#7aa4d2"/><rect x="353.40" y="97.30" width="5.28" height="7.00" fill="#edbcba"/><rect x="358.68" y="97.30" width="5.28" height="7.00" fill="#4e86c2"/><rect x="363.96" y="97.30" width="5.28" height="7.00" fill="#e49694"/><rect x="369.24" y="97.30" width="5.28" height="7.00" fill="#d77270"/><rect x="374.52" y="97.30" width="5.28" height="7.00" fill="#b4343c"/><rect x="379.80" y="97.30" width="5.28" height="7.00" fill="#c85052"/><rect x="385.08" y="97.30" width="5.28" height="7.00" fill="#d77270"/><rect x="390.36" y="97.30" width="5.28" height="7.00" fill="#edbcba"/><rect x="273.00" y="104.30" width="5.28" height="7.00" fill="#f6f3f6"/><rect x="278.28" y="104.30" width="5.28" height="7.00" fill="#f6f3f6"/><rect x="283.56" y="104.30" width="5.28" height="7.00" fill="#d77270"/><rect x="288.84" y="104.30" width="5.28" height="7.00" fill="#aac6e5"/><rect x="294.12" y="104.30" width="5.28" height="7.00" fill="#d77270"/><rect x="299.40" y="104.30" width="5.28" height="7.00" fill="#c85052"/><rect x="304.68" y="104.30" width="5.28" height="7.00" fill="#c85052"/><rect x="309.96" y="104.30" width="5.28" height="7.00" fill="#d77270"/><rect x="315.24" y="104.30" width="5.28" height="7.00" fill="#c85052"/><rect x="320.52" y="104.30" width="5.28" height="7.00" fill="#d77270"/><rect x="325.80" y="104.30" width="5.28" height="7.00" fill="#c85052"/><rect x="331.08" y="104.30" width="5.28" height="7.00" fill="#d77270"/><rect x="337.56" y="104.30" width="5.28" height="7.00" fill="#c85052"/><rect x="342.84" y="104.30" width="5.28" height="7.00" fill="#4e86c2"/><rect x="348.12" y="104.30" width="5.28" height="7.00" fill="#aac6e5"/><rect x="353.40" y="104.30" width="5.28" height="7.00" fill="#d77270"/><rect x="358.68" y="104.30" width="5.28" height="7.00" fill="#326cb0"/><rect x="363.96" y="104.30" width="5.28" height="7.00" fill="#e49694"/><rect x="369.24" y="104.30" width="5.28" height="7.00" fill="#edbcba"/><rect x="374.52" y="104.30" width="5.28" height="7.00" fill="#f3dada"/><rect x="379.80" y="104.30" width="5.28" height="7.00" fill="#f3dada"/><rect x="385.08" y="104.30" width="5.28" height="7.00" fill="#d77270"/><rect x="390.36" y="104.30" width="5.28" height="7.00" fill="#d77270"/><rect x="273.00" y="111.30" width="5.28" height="7.00" fill="#f3dada"/><rect x="278.28" y="111.30" width="5.28" height="7.00" fill="#d77270"/><rect x="283.56" y="111.30" width="5.28" height="7.00" fill="#d77270"/><rect x="288.84" y="111.30" width="5.28" height="7.00" fill="#aac6e5"/><rect x="294.12" y="111.30" width="5.28" height="7.00" fill="#b4343c"/><rect x="299.40" y="111.30" width="5.28" height="7.00" fill="#c85052"/><rect x="304.68" y="111.30" width="5.28" height="7.00" fill="#edbcba"/><rect x="309.96" y="111.30" width="5.28" height="7.00" fill="#edbcba"/><rect x="315.24" y="111.30" width="5.28" height="7.00" fill="#e49694"/><rect x="320.52" y="111.30" width="5.28" height="7.00" fill="#edbcba"/><rect x="325.80" y="111.30" width="5.28" height="7.00" fill="#b4343c"/><rect x="331.08" y="111.30" width="5.28" height="7.00" fill="#f3dada"/><rect x="337.56" y="111.30" width="5.28" height="7.00" fill="#c85052"/><rect x="342.84" y="111.30" width="5.28" height="7.00" fill="#326cb0"/><rect x="348.12" y="111.30" width="5.28" height="7.00" fill="#aac6e5"/><rect x="353.40" y="111.30" width="5.28" height="7.00" fill="#c85052"/><rect x="358.68" y="111.30" width="5.28" height="7.00" fill="#aac6e5"/><rect x="363.96" y="111.30" width="5.28" height="7.00" fill="#c85052"/><rect x="369.24" y="111.30" width="5.28" height="7.00" fill="#d77270"/><rect x="374.52" y="111.30" width="5.28" height="7.00" fill="#d77270"/><rect x="379.80" y="111.30" width="5.28" height="7.00" fill="#d77270"/><rect x="385.08" y="111.30" width="5.28" height="7.00" fill="#d77270"/><rect x="390.36" y="111.30" width="5.28" height="7.00" fill="#c85052"/><rect x="273.00" y="118.30" width="5.28" height="7.00" fill="#d77270"/><rect x="278.28" y="118.30" width="5.28" height="7.00" fill="#d77270"/><rect x="283.56" y="118.30" width="5.28" height="7.00" fill="#d77270"/><rect x="288.84" y="118.30" width="5.28" height="7.00" fill="#f6f3f6"/><rect x="294.12" y="118.30" width="5.28" height="7.00" fill="#b4343c"/><rect x="299.40" y="118.30" width="5.28" height="7.00" fill="#b4343c"/><rect x="304.68" y="118.30" width="5.28" height="7.00" fill="#edbcba"/><rect x="309.96" y="118.30" width="5.28" height="7.00" fill="#edbcba"/><rect x="315.24" y="118.30" width="5.28" height="7.00" fill="#e49694"/><rect x="320.52" y="118.30" width="5.28" height="7.00" fill="#e49694"/><rect x="325.80" y="118.30" width="5.28" height="7.00" fill="#c85052"/><rect x="331.08" y="118.30" width="5.28" height="7.00" fill="#e49694"/><rect x="337.56" y="118.30" width="5.28" height="7.00" fill="#c85052"/><rect x="342.84" y="118.30" width="5.28" height="7.00" fill="#4e86c2"/><rect x="348.12" y="118.30" width="5.28" height="7.00" fill="#f6f3f6"/><rect x="353.40" y="118.30" width="5.28" height="7.00" fill="#c85052"/><rect x="358.68" y="118.30" width="5.28" height="7.00" fill="#f6f3f6"/><rect x="363.96" y="118.30" width="5.28" height="7.00" fill="#c85052"/><rect x="369.24" y="118.30" width="5.28" height="7.00" fill="#c85052"/><rect x="374.52" y="118.30" width="5.28" height="7.00" fill="#d77270"/><rect x="379.80" y="118.30" width="5.28" height="7.00" fill="#d77270"/><rect x="385.08" y="118.30" width="5.28" height="7.00" fill="#d77270"/><rect x="390.36" y="118.30" width="5.28" height="7.00" fill="#c85052"/><rect x="273.00" y="125.30" width="5.28" height="7.00" fill="#c85052"/><rect x="278.28" y="125.30" width="5.28" height="7.00" fill="#c85052"/><rect x="283.56" y="125.30" width="5.28" height="7.00" fill="#d77270"/><rect x="288.84" y="125.30" width="5.28" height="7.00" fill="#326cb0"/><rect x="294.12" y="125.30" width="5.28" height="7.00" fill="#b4343c"/><rect x="299.40" y="125.30" width="5.28" height="7.00" fill="#d77270"/><rect x="304.68" y="125.30" width="5.28" height="7.00" fill="#d77270"/><rect x="309.96" y="125.30" width="5.28" height="7.00" fill="#d77270"/><rect x="315.24" y="125.30" width="5.28" height="7.00" fill="#d77270"/><rect x="320.52" y="125.30" width="5.28" height="7.00" fill="#d77270"/><rect x="325.80" y="125.30" width="5.28" height="7.00" fill="#c85052"/><rect x="331.08" y="125.30" width="5.28" height="7.00" fill="#d77270"/><rect x="337.56" y="125.30" width="5.28" height="7.00" fill="#c85052"/><rect x="342.84" y="125.30" width="5.28" height="7.00" fill="#f3dada"/><rect x="348.12" y="125.30" width="5.28" height="7.00" fill="#326cb0"/><rect x="353.40" y="125.30" width="5.28" height="7.00" fill="#c85052"/><rect x="358.68" y="125.30" width="5.28" height="7.00" fill="#326cb0"/><rect x="363.96" y="125.30" width="5.28" height="7.00" fill="#c85052"/><rect x="369.24" y="125.30" width="5.28" height="7.00" fill="#d77270"/><rect x="374.52" y="125.30" width="5.28" height="7.00" fill="#d77270"/><rect x="379.80" y="125.30" width="5.28" height="7.00" fill="#d77270"/><rect x="385.08" y="125.30" width="5.28" height="7.00" fill="#c85052"/><rect x="390.36" y="125.30" width="5.28" height="7.00" fill="#d77270"/><rect x="273.00" y="132.30" width="5.28" height="7.00" fill="#e49694"/><rect x="278.28" y="132.30" width="5.28" height="7.00" fill="#e49694"/><rect x="283.56" y="132.30" width="5.28" height="7.00" fill="#c85052"/><rect x="288.84" y="132.30" width="5.28" height="7.00" fill="#326cb0"/><rect x="294.12" y="132.30" width="5.28" height="7.00" fill="#c85052"/><rect x="299.40" y="132.30" width="5.28" height="7.00" fill="#c85052"/><rect x="304.68" y="132.30" width="5.28" height="7.00" fill="#d77270"/><rect x="309.96" y="132.30" width="5.28" height="7.00" fill="#d77270"/><rect x="315.24" y="132.30" width="5.28" height="7.00" fill="#c85052"/><rect x="320.52" y="132.30" width="5.28" height="7.00" fill="#c85052"/><rect x="325.80" y="132.30" width="5.28" height="7.00" fill="#c85052"/><rect x="331.08" y="132.30" width="5.28" height="7.00" fill="#e49694"/><rect x="337.56" y="132.30" width="5.28" height="7.00" fill="#c85052"/><rect x="342.84" y="132.30" width="5.28" height="7.00" fill="#f3dada"/><rect x="348.12" y="132.30" width="5.28" height="7.00" fill="#326cb0"/><rect x="353.40" y="132.30" width="5.28" height="7.00" fill="#c85052"/><rect x="358.68" y="132.30" width="5.28" height="7.00" fill="#326cb0"/><rect x="363.96" y="132.30" width="5.28" height="7.00" fill="#d77270"/><rect x="369.24" y="132.30" width="5.28" height="7.00" fill="#d77270"/><rect x="374.52" y="132.30" width="5.28" height="7.00" fill="#c85052"/><rect x="379.80" y="132.30" width="5.28" height="7.00" fill="#d77270"/><rect x="385.08" y="132.30" width="5.28" height="7.00" fill="#c85052"/><rect x="390.36" y="132.30" width="5.28" height="7.00" fill="#d77270"/><rect x="273.00" y="139.30" width="5.28" height="7.00" fill="#edbcba"/><rect x="278.28" y="139.30" width="5.28" height="7.00" fill="#c85052"/><rect x="283.56" y="139.30" width="5.28" height="7.00" fill="#e49694"/><rect x="288.84" y="139.30" width="5.28" height="7.00" fill="#f3dada"/><rect x="294.12" y="139.30" width="5.28" height="7.00" fill="#b4343c"/><rect x="299.40" y="139.30" width="5.28" height="7.00" fill="#c85052"/><rect x="304.68" y="139.30" width="5.28" height="7.00" fill="#f3dada"/><rect x="309.96" y="139.30" width="5.28" height="7.00" fill="#d77270"/><rect x="315.24" y="139.30" width="5.28" height="7.00" fill="#d77270"/><rect x="320.52" y="139.30" width="5.28" height="7.00" fill="#f3dada"/><rect x="325.80" y="139.30" width="5.28" height="7.00" fill="#c85052"/><rect x="331.08" y="139.30" width="5.28" height="7.00" fill="#d77270"/><rect x="337.56" y="139.30" width="5.28" height="7.00" fill="#c85052"/><rect x="342.84" y="139.30" width="5.28" height="7.00" fill="#c85052"/><rect x="348.12" y="139.30" width="5.28" height="7.00" fill="#edbcba"/><rect x="353.40" y="139.30" width="5.28" height="7.00" fill="#c85052"/><rect x="358.68" y="139.30" width="5.28" height="7.00" fill="#326cb0"/><rect x="363.96" y="139.30" width="5.28" height="7.00" fill="#c85052"/><rect x="369.24" y="139.30" width="5.28" height="7.00" fill="#c85052"/><rect x="374.52" y="139.30" width="5.28" height="7.00" fill="#c85052"/><rect x="379.80" y="139.30" width="5.28" height="7.00" fill="#d77270"/><rect x="385.08" y="139.30" width="5.28" height="7.00" fill="#c85052"/><rect x="390.36" y="139.30" width="5.28" height="7.00" fill="#c85052"/><rect x="273.00" y="146.30" width="5.28" height="7.00" fill="#c85052"/><rect x="278.28" y="146.30" width="5.28" height="7.00" fill="#c85052"/><rect x="283.56" y="146.30" width="5.28" height="7.00" fill="#e49694"/><rect x="288.84" y="146.30" width="5.28" height="7.00" fill="#326cb0"/><rect x="294.12" y="146.30" width="5.28" height="7.00" fill="#c85052"/><rect x="299.40" y="146.30" width="5.28" height="7.00" fill="#c85052"/><rect x="304.68" y="146.30" width="5.28" height="7.00" fill="#d77270"/><rect x="309.96" y="146.30" width="5.28" height="7.00" fill="#d77270"/><rect x="315.24" y="146.30" width="5.28" height="7.00" fill="#d77270"/><rect x="320.52" y="146.30" width="5.28" height="7.00" fill="#d77270"/><rect x="325.80" y="146.30" width="5.28" height="7.00" fill="#c85052"/><rect x="331.08" y="146.30" width="5.28" height="7.00" fill="#d77270"/><rect x="337.56" y="146.30" width="5.28" height="7.00" fill="#c85052"/><rect x="342.84" y="146.30" width="5.28" height="7.00" fill="#d77270"/><rect x="348.12" y="146.30" width="5.28" height="7.00" fill="#edbcba"/><rect x="353.40" y="146.30" width="5.28" height="7.00" fill="#c85052"/><rect x="358.68" y="146.30" width="5.28" height="7.00" fill="#f3dada"/><rect x="363.96" y="146.30" width="5.28" height="7.00" fill="#d77270"/><rect x="369.24" y="146.30" width="5.28" height="7.00" fill="#c85052"/><rect x="374.52" y="146.30" width="5.28" height="7.00" fill="#c85052"/><rect x="379.80" y="146.30" width="5.28" height="7.00" fill="#e49694"/><rect x="385.08" y="146.30" width="5.28" height="7.00" fill="#c85052"/><rect x="390.36" y="146.30" width="5.28" height="7.00" fill="#c85052"/><rect x="273.00" y="153.30" width="5.28" height="7.00" fill="#edbcba"/><rect x="278.28" y="153.30" width="5.28" height="7.00" fill="#d77270"/><rect x="283.56" y="153.30" width="5.28" height="7.00" fill="#d77270"/><rect x="288.84" y="153.30" width="5.28" height="7.00" fill="#326cb0"/><rect x="294.12" y="153.30" width="5.28" height="7.00" fill="#e49694"/><rect x="299.40" y="153.30" width="5.28" height="7.00" fill="#d77270"/><rect x="304.68" y="153.30" width="5.28" height="7.00" fill="#d77270"/><rect x="309.96" y="153.30" width="5.28" height="7.00" fill="#d77270"/><rect x="315.24" y="153.30" width="5.28" height="7.00" fill="#d77270"/><rect x="320.52" y="153.30" width="5.28" height="7.00" fill="#d77270"/><rect x="325.80" y="153.30" width="5.28" height="7.00" fill="#d77270"/><rect x="331.08" y="153.30" width="5.28" height="7.00" fill="#d77270"/><rect x="337.56" y="153.30" width="5.28" height="7.00" fill="#d77270"/><rect x="342.84" y="153.30" width="5.28" height="7.00" fill="#d77270"/><rect x="348.12" y="153.30" width="5.28" height="7.00" fill="#edbcba"/><rect x="353.40" y="153.30" width="5.28" height="7.00" fill="#b4343c"/><rect x="358.68" y="153.30" width="5.28" height="7.00" fill="#326cb0"/><rect x="363.96" y="153.30" width="5.28" height="7.00" fill="#c85052"/><rect x="369.24" y="153.30" width="5.28" height="7.00" fill="#d77270"/><rect x="374.52" y="153.30" width="5.28" height="7.00" fill="#e49694"/><rect x="379.80" y="153.30" width="5.28" height="7.00" fill="#d77270"/><rect x="385.08" y="153.30" width="5.28" height="7.00" fill="#c85052"/><rect x="390.36" y="153.30" width="5.28" height="7.00" fill="#d77270"/><rect x="273.00" y="160.30" width="5.28" height="7.00" fill="#edbcba"/><rect x="278.28" y="160.30" width="5.28" height="7.00" fill="#edbcba"/><rect x="283.56" y="160.30" width="5.28" height="7.00" fill="#e49694"/><rect x="288.84" y="160.30" width="5.28" height="7.00" fill="#326cb0"/><rect x="294.12" y="160.30" width="5.28" height="7.00" fill="#e49694"/><rect x="299.40" y="160.30" width="5.28" height="7.00" fill="#e49694"/><rect x="304.68" y="160.30" width="5.28" height="7.00" fill="#e49694"/><rect x="309.96" y="160.30" width="5.28" height="7.00" fill="#e49694"/><rect x="315.24" y="160.30" width="5.28" height="7.00" fill="#e49694"/><rect x="320.52" y="160.30" width="5.28" height="7.00" fill="#c85052"/><rect x="325.80" y="160.30" width="5.28" height="7.00" fill="#c85052"/><rect x="331.08" y="160.30" width="5.28" height="7.00" fill="#e49694"/><rect x="337.56" y="160.30" width="5.28" height="7.00" fill="#c85052"/><rect x="342.84" y="160.30" width="5.28" height="7.00" fill="#d77270"/><rect x="348.12" y="160.30" width="5.28" height="7.00" fill="#d4e3f2"/><rect x="353.40" y="160.30" width="5.28" height="7.00" fill="#d77270"/><rect x="358.68" y="160.30" width="5.28" height="7.00" fill="#326cb0"/><rect x="363.96" y="160.30" width="5.28" height="7.00" fill="#e49694"/><rect x="369.24" y="160.30" width="5.28" height="7.00" fill="#d77270"/><rect x="374.52" y="160.30" width="5.28" height="7.00" fill="#b4343c"/><rect x="379.80" y="160.30" width="5.28" height="7.00" fill="#d77270"/><rect x="385.08" y="160.30" width="5.28" height="7.00" fill="#d77270"/><rect x="390.36" y="160.30" width="5.28" height="7.00" fill="#d77270"/><rect x="273.00" y="167.30" width="5.28" height="7.00" fill="#4e86c2"/><rect x="278.28" y="167.30" width="5.28" height="7.00" fill="#d4e3f2"/><rect x="283.56" y="167.30" width="5.28" height="7.00" fill="#d77270"/><rect x="288.84" y="167.30" width="5.28" height="7.00" fill="#326cb0"/><rect x="294.12" y="167.30" width="5.28" height="7.00" fill="#f3dada"/><rect x="299.40" y="167.30" width="5.28" height="7.00" fill="#e49694"/><rect x="304.68" y="167.30" width="5.28" height="7.00" fill="#e49694"/><rect x="309.96" y="167.30" width="5.28" height="7.00" fill="#edbcba"/><rect x="315.24" y="167.30" width="5.28" height="7.00" fill="#e49694"/><rect x="320.52" y="167.30" width="5.28" height="7.00" fill="#b4343c"/><rect x="325.80" y="167.30" width="5.28" height="7.00" fill="#c85052"/><rect x="331.08" y="167.30" width="5.28" height="7.00" fill="#f6f3f6"/><rect x="337.56" y="167.30" width="5.28" height="7.00" fill="#c85052"/><rect x="342.84" y="167.30" width="5.28" height="7.00" fill="#edbcba"/><rect x="348.12" y="167.30" width="5.28" height="7.00" fill="#aac6e5"/><rect x="353.40" y="167.30" width="5.28" height="7.00" fill="#edbcba"/><rect x="358.68" y="167.30" width="5.28" height="7.00" fill="#326cb0"/><rect x="363.96" y="167.30" width="5.28" height="7.00" fill="#f6f3f6"/><rect x="369.24" y="167.30" width="5.28" height="7.00" fill="#f6f3f6"/><rect x="374.52" y="167.30" width="5.28" height="7.00" fill="#e49694"/><rect x="379.80" y="167.30" width="5.28" height="7.00" fill="#f6f3f6"/><rect x="385.08" y="167.30" width="5.28" height="7.00" fill="#f6f3f6"/><rect x="390.36" y="167.30" width="5.28" height="7.00" fill="#e49694"/><rect x="273.00" y="174.30" width="5.28" height="7.00" fill="#aac6e5"/><rect x="278.28" y="174.30" width="5.28" height="7.00" fill="#aac6e5"/><rect x="283.56" y="174.30" width="5.28" height="7.00" fill="#d77270"/><rect x="288.84" y="174.30" width="5.28" height="7.00" fill="#4e86c2"/><rect x="294.12" y="174.30" width="5.28" height="7.00" fill="#edbcba"/><rect x="299.40" y="174.30" width="5.28" height="7.00" fill="#e49694"/><rect x="304.68" y="174.30" width="5.28" height="7.00" fill="#c85052"/><rect x="309.96" y="174.30" width="5.28" height="7.00" fill="#f3dada"/><rect x="315.24" y="174.30" width="5.28" height="7.00" fill="#edbcba"/><rect x="320.52" y="174.30" width="5.28" height="7.00" fill="#c85052"/><rect x="325.80" y="174.30" width="5.28" height="7.00" fill="#d77270"/><rect x="331.08" y="174.30" width="5.28" height="7.00" fill="#f6f3f6"/><rect x="337.56" y="174.30" width="5.28" height="7.00" fill="#b4343c"/><rect x="342.84" y="174.30" width="5.28" height="7.00" fill="#e49694"/><rect x="348.12" y="174.30" width="5.28" height="7.00" fill="#aac6e5"/><rect x="353.40" y="174.30" width="5.28" height="7.00" fill="#e49694"/><rect x="358.68" y="174.30" width="5.28" height="7.00" fill="#326cb0"/><rect x="363.96" y="174.30" width="5.28" height="7.00" fill="#f6f3f6"/><rect x="369.24" y="174.30" width="5.28" height="7.00" fill="#f3dada"/><rect x="374.52" y="174.30" width="5.28" height="7.00" fill="#e49694"/><rect x="379.80" y="174.30" width="5.28" height="7.00" fill="#f6f3f6"/><rect x="385.08" y="174.30" width="5.28" height="7.00" fill="#edbcba"/><rect x="390.36" y="174.30" width="5.28" height="7.00" fill="#e49694"/><rect x="273.00" y="181.30" width="5.28" height="7.00" fill="#b4343c"/><rect x="278.28" y="181.30" width="5.28" height="7.00" fill="#edbcba"/><rect x="283.56" y="181.30" width="5.28" height="7.00" fill="#f6f3f6"/><rect x="288.84" y="181.30" width="5.28" height="7.00" fill="#aac6e5"/><rect x="294.12" y="181.30" width="5.28" height="7.00" fill="#edbcba"/><rect x="299.40" y="181.30" width="5.28" height="7.00" fill="#f6f3f6"/><rect x="304.68" y="181.30" width="5.28" height="7.00" fill="#f6f3f6"/><rect x="309.96" y="181.30" width="5.28" height="7.00" fill="#d4e3f2"/><rect x="315.24" y="181.30" width="5.28" height="7.00" fill="#f6f3f6"/><rect x="320.52" y="181.30" width="5.28" height="7.00" fill="#edbcba"/><rect x="325.80" y="181.30" width="5.28" height="7.00" fill="#e49694"/><rect x="331.08" y="181.30" width="5.28" height="7.00" fill="#edbcba"/><rect x="337.56" y="181.30" width="5.28" height="7.00" fill="#edbcba"/><rect x="342.84" y="181.30" width="5.28" height="7.00" fill="#f6f3f6"/><rect x="348.12" y="181.30" width="5.28" height="7.00" fill="#326cb0"/><rect x="353.40" y="181.30" width="5.28" height="7.00" fill="#f6f3f6"/><rect x="358.68" y="181.30" width="5.28" height="7.00" fill="#326cb0"/><rect x="363.96" y="181.30" width="5.28" height="7.00" fill="#edbcba"/><rect x="369.24" y="181.30" width="5.28" height="7.00" fill="#f3dada"/><rect x="374.52" y="181.30" width="5.28" height="7.00" fill="#f6f3f6"/><rect x="379.80" y="181.30" width="5.28" height="7.00" fill="#f6f3f6"/><rect x="385.08" y="181.30" width="5.28" height="7.00" fill="#e49694"/><rect x="390.36" y="181.30" width="5.28" height="7.00" fill="#f6f3f6"/><rect x="273.00" y="188.30" width="5.28" height="7.00" fill="#c85052"/><rect x="278.28" y="188.30" width="5.28" height="7.00" fill="#f6f3f6"/><rect x="283.56" y="188.30" width="5.28" height="7.00" fill="#edbcba"/><rect x="288.84" y="188.30" width="5.28" height="7.00" fill="#4e86c2"/><rect x="294.12" y="188.30" width="5.28" height="7.00" fill="#f6f3f6"/><rect x="299.40" y="188.30" width="5.28" height="7.00" fill="#d4e3f2"/><rect x="304.68" y="188.30" width="5.28" height="7.00" fill="#edbcba"/><rect x="309.96" y="188.30" width="5.28" height="7.00" fill="#d4e3f2"/><rect x="315.24" y="188.30" width="5.28" height="7.00" fill="#aac6e5"/><rect x="320.52" y="188.30" width="5.28" height="7.00" fill="#edbcba"/><rect x="325.80" y="188.30" width="5.28" height="7.00" fill="#f6f3f6"/><rect x="331.08" y="188.30" width="5.28" height="7.00" fill="#f6f3f6"/><rect x="337.56" y="188.30" width="5.28" height="7.00" fill="#e49694"/><rect x="342.84" y="188.30" width="5.28" height="7.00" fill="#f6f3f6"/><rect x="348.12" y="188.30" width="5.28" height="7.00" fill="#4e86c2"/><rect x="353.40" y="188.30" width="5.28" height="7.00" fill="#f3dada"/><rect x="358.68" y="188.30" width="5.28" height="7.00" fill="#326cb0"/><rect x="363.96" y="188.30" width="5.28" height="7.00" fill="#aac6e5"/><rect x="369.24" y="188.30" width="5.28" height="7.00" fill="#f6f3f6"/><rect x="374.52" y="188.30" width="5.28" height="7.00" fill="#e49694"/><rect x="379.80" y="188.30" width="5.28" height="7.00" fill="#f6f3f6"/><rect x="385.08" y="188.30" width="5.28" height="7.00" fill="#edbcba"/><rect x="390.36" y="188.30" width="5.28" height="7.00" fill="#f3dada"/><rect x="273.00" y="195.30" width="5.28" height="7.00" fill="#c85052"/><rect x="278.28" y="195.30" width="5.28" height="7.00" fill="#d4e3f2"/><rect x="283.56" y="195.30" width="5.28" height="7.00" fill="#edbcba"/><rect x="288.84" y="195.30" width="5.28" height="7.00" fill="#4e86c2"/><rect x="294.12" y="195.30" width="5.28" height="7.00" fill="#edbcba"/><rect x="299.40" y="195.30" width="5.28" height="7.00" fill="#f6f3f6"/><rect x="304.68" y="195.30" width="5.28" height="7.00" fill="#e49694"/><rect x="309.96" y="195.30" width="5.28" height="7.00" fill="#f6f3f6"/><rect x="315.24" y="195.30" width="5.28" height="7.00" fill="#f3dada"/><rect x="320.52" y="195.30" width="5.28" height="7.00" fill="#b4343c"/><rect x="325.80" y="195.30" width="5.28" height="7.00" fill="#f6f3f6"/><rect x="331.08" y="195.30" width="5.28" height="7.00" fill="#f6f3f6"/><rect x="337.56" y="195.30" width="5.28" height="7.00" fill="#d77270"/><rect x="342.84" y="195.30" width="5.28" height="7.00" fill="#f6f3f6"/><rect x="348.12" y="195.30" width="5.28" height="7.00" fill="#326cb0"/><rect x="353.40" y="195.30" width="5.28" height="7.00" fill="#e49694"/><rect x="358.68" y="195.30" width="5.28" height="7.00" fill="#7aa4d2"/><rect x="363.96" y="195.30" width="5.28" height="7.00" fill="#aac6e5"/><rect x="369.24" y="195.30" width="5.28" height="7.00" fill="#f3dada"/><rect x="374.52" y="195.30" width="5.28" height="7.00" fill="#d77270"/><rect x="379.80" y="195.30" width="5.28" height="7.00" fill="#4e86c2"/><rect x="385.08" y="195.30" width="5.28" height="7.00" fill="#aac6e5"/><rect x="390.36" y="195.30" width="5.28" height="7.00" fill="#edbcba"/><rect x="273.00" y="202.30" width="5.28" height="7.00" fill="#c85052"/><rect x="278.28" y="202.30" width="5.28" height="7.00" fill="#d4e3f2"/><rect x="283.56" y="202.30" width="5.28" height="7.00" fill="#e49694"/><rect x="288.84" y="202.30" width="5.28" height="7.00" fill="#4e86c2"/><rect x="294.12" y="202.30" width="5.28" height="7.00" fill="#edbcba"/><rect x="299.40" y="202.30" width="5.28" height="7.00" fill="#f3dada"/><rect x="304.68" y="202.30" width="5.28" height="7.00" fill="#d77270"/><rect x="309.96" y="202.30" width="5.28" height="7.00" fill="#f6f3f6"/><rect x="315.24" y="202.30" width="5.28" height="7.00" fill="#edbcba"/><rect x="320.52" y="202.30" width="5.28" height="7.00" fill="#c85052"/><rect x="325.80" y="202.30" width="5.28" height="7.00" fill="#edbcba"/><rect x="331.08" y="202.30" width="5.28" height="7.00" fill="#f6f3f6"/><rect x="337.56" y="202.30" width="5.28" height="7.00" fill="#c85052"/><rect x="342.84" y="202.30" width="5.28" height="7.00" fill="#edbcba"/><rect x="348.12" y="202.30" width="5.28" height="7.00" fill="#aac6e5"/><rect x="353.40" y="202.30" width="5.28" height="7.00" fill="#d77270"/><rect x="358.68" y="202.30" width="5.28" height="7.00" fill="#aac6e5"/><rect x="363.96" y="202.30" width="5.28" height="7.00" fill="#f6f3f6"/><rect x="369.24" y="202.30" width="5.28" height="7.00" fill="#edbcba"/><rect x="374.52" y="202.30" width="5.28" height="7.00" fill="#e49694"/><rect x="379.80" y="202.30" width="5.28" height="7.00" fill="#f6f3f6"/><rect x="385.08" y="202.30" width="5.28" height="7.00" fill="#edbcba"/><rect x="390.36" y="202.30" width="5.28" height="7.00" fill="#d77270"/><rect x="273.00" y="209.30" width="5.28" height="7.00" fill="#edbcba"/><rect x="278.28" y="209.30" width="5.28" height="7.00" fill="#d4e3f2"/><rect x="283.56" y="209.30" width="5.28" height="7.00" fill="#e49694"/><rect x="288.84" y="209.30" width="5.28" height="7.00" fill="#7aa4d2"/><rect x="294.12" y="209.30" width="5.28" height="7.00" fill="#f6f3f6"/><rect x="299.40" y="209.30" width="5.28" height="7.00" fill="#f6f3f6"/><rect x="304.68" y="209.30" width="5.28" height="7.00" fill="#e49694"/><rect x="309.96" y="209.30" width="5.28" height="7.00" fill="#f6f3f6"/><rect x="315.24" y="209.30" width="5.28" height="7.00" fill="#f6f3f6"/><rect x="320.52" y="209.30" width="5.28" height="7.00" fill="#b4343c"/><rect x="325.80" y="209.30" width="5.28" height="7.00" fill="#e49694"/><rect x="331.08" y="209.30" width="5.28" height="7.00" fill="#f6f3f6"/><rect x="337.56" y="209.30" width="5.28" height="7.00" fill="#d77270"/><rect x="342.84" y="209.30" width="5.28" height="7.00" fill="#f6f3f6"/><rect x="348.12" y="209.30" width="5.28" height="7.00" fill="#f6f3f6"/><rect x="353.40" y="209.30" width="5.28" height="7.00" fill="#f6f3f6"/><rect x="358.68" y="209.30" width="5.28" height="7.00" fill="#326cb0"/><rect x="363.96" y="209.30" width="5.28" height="7.00" fill="#f6f3f6"/><rect x="369.24" y="209.30" width="5.28" height="7.00" fill="#edbcba"/><rect x="374.52" y="209.30" width="5.28" height="7.00" fill="#e49694"/><rect x="379.80" y="209.30" width="5.28" height="7.00" fill="#f3dada"/><rect x="385.08" y="209.30" width="5.28" height="7.00" fill="#f6f3f6"/><rect x="390.36" y="209.30" width="5.28" height="7.00" fill="#e49694"/><rect x="273.00" y="216.30" width="5.28" height="7.00" fill="#aac6e5"/><rect x="278.28" y="216.30" width="5.28" height="7.00" fill="#326cb0"/><rect x="283.56" y="216.30" width="5.28" height="7.00" fill="#f6f3f6"/><rect x="288.84" y="216.30" width="5.28" height="7.00" fill="#f6f3f6"/><rect x="294.12" y="216.30" width="5.28" height="7.00" fill="#4e86c2"/><rect x="299.40" y="216.30" width="5.28" height="7.00" fill="#f6f3f6"/><rect x="304.68" y="216.30" width="5.28" height="7.00" fill="#aac6e5"/><rect x="309.96" y="216.30" width="5.28" height="7.00" fill="#b4343c"/><rect x="315.24" y="216.30" width="5.28" height="7.00" fill="#b4343c"/><rect x="320.52" y="216.30" width="5.28" height="7.00" fill="#aac6e5"/><rect x="325.80" y="216.30" width="5.28" height="7.00" fill="#f6f3f6"/><rect x="331.08" y="216.30" width="5.28" height="7.00" fill="#c85052"/><rect x="337.56" y="216.30" width="5.28" height="7.00" fill="#f6f3f6"/><rect x="342.84" y="216.30" width="5.28" height="7.00" fill="#e49694"/><rect x="348.12" y="216.30" width="5.28" height="7.00" fill="#f6f3f6"/><rect x="353.40" y="216.30" width="5.28" height="7.00" fill="#f6f3f6"/><rect x="358.68" y="216.30" width="5.28" height="7.00" fill="#f6f3f6"/><rect x="363.96" y="216.30" width="5.28" height="7.00" fill="#f3dada"/><rect x="369.24" y="216.30" width="5.28" height="7.00" fill="#e49694"/><rect x="374.52" y="216.30" width="5.28" height="7.00" fill="#d77270"/><rect x="379.80" y="216.30" width="5.28" height="7.00" fill="#d77270"/><rect x="385.08" y="216.30" width="5.28" height="7.00" fill="#f6f3f6"/><rect x="390.36" y="216.30" width="5.28" height="7.00" fill="#d77270"/><rect x="273.00" y="223.30" width="5.28" height="7.00" fill="#b4343c"/><rect x="278.28" y="223.30" width="5.28" height="7.00" fill="#7aa4d2"/><rect x="283.56" y="223.30" width="5.28" height="7.00" fill="#f6f3f6"/><rect x="288.84" y="223.30" width="5.28" height="7.00" fill="#f6f3f6"/><rect x="294.12" y="223.30" width="5.28" height="7.00" fill="#aac6e5"/><rect x="299.40" y="223.30" width="5.28" height="7.00" fill="#4e86c2"/><rect x="304.68" y="223.30" width="5.28" height="7.00" fill="#aac6e5"/><rect x="309.96" y="223.30" width="5.28" height="7.00" fill="#d4e3f2"/><rect x="315.24" y="223.30" width="5.28" height="7.00" fill="#aac6e5"/><rect x="320.52" y="223.30" width="5.28" height="7.00" fill="#f6f3f6"/><rect x="325.80" y="223.30" width="5.28" height="7.00" fill="#326cb0"/><rect x="331.08" y="223.30" width="5.28" height="7.00" fill="#4e86c2"/><rect x="337.56" y="223.30" width="5.28" height="7.00" fill="#f6f3f6"/><rect x="342.84" y="223.30" width="5.28" height="7.00" fill="#f6f3f6"/><rect x="348.12" y="223.30" width="5.28" height="7.00" fill="#f6f3f6"/><rect x="353.40" y="223.30" width="5.28" height="7.00" fill="#edbcba"/><rect x="358.68" y="223.30" width="5.28" height="7.00" fill="#d4e3f2"/><rect x="363.96" y="223.30" width="5.28" height="7.00" fill="#f6f3f6"/><rect x="369.24" y="223.30" width="5.28" height="7.00" fill="#d4e3f2"/><rect x="374.52" y="223.30" width="5.28" height="7.00" fill="#f6f3f6"/><rect x="379.80" y="223.30" width="5.28" height="7.00" fill="#c85052"/><rect x="385.08" y="223.30" width="5.28" height="7.00" fill="#f6f3f6"/><rect x="390.36" y="223.30" width="5.28" height="7.00" fill="#f6f3f6"/><rect x="273.00" y="230.30" width="5.28" height="7.00" fill="#f3dada"/><rect x="278.28" y="230.30" width="5.28" height="7.00" fill="#7aa4d2"/><rect x="283.56" y="230.30" width="5.28" height="7.00" fill="#b4343c"/><rect x="288.84" y="230.30" width="5.28" height="7.00" fill="#f6f3f6"/><rect x="294.12" y="230.30" width="5.28" height="7.00" fill="#aac6e5"/><rect x="299.40" y="230.30" width="5.28" height="7.00" fill="#aac6e5"/><rect x="304.68" y="230.30" width="5.28" height="7.00" fill="#edbcba"/><rect x="309.96" y="230.30" width="5.28" height="7.00" fill="#aac6e5"/><rect x="315.24" y="230.30" width="5.28" height="7.00" fill="#7aa4d2"/><rect x="320.52" y="230.30" width="5.28" height="7.00" fill="#d77270"/><rect x="325.80" y="230.30" width="5.28" height="7.00" fill="#7aa4d2"/><rect x="331.08" y="230.30" width="5.28" height="7.00" fill="#4e86c2"/><rect x="337.56" y="230.30" width="5.28" height="7.00" fill="#edbcba"/><rect x="342.84" y="230.30" width="5.28" height="7.00" fill="#f6f3f6"/><rect x="348.12" y="230.30" width="5.28" height="7.00" fill="#f6f3f6"/><rect x="353.40" y="230.30" width="5.28" height="7.00" fill="#edbcba"/><rect x="358.68" y="230.30" width="5.28" height="7.00" fill="#4e86c2"/><rect x="363.96" y="230.30" width="5.28" height="7.00" fill="#7aa4d2"/><rect x="369.24" y="230.30" width="5.28" height="7.00" fill="#aac6e5"/><rect x="374.52" y="230.30" width="5.28" height="7.00" fill="#f6f3f6"/><rect x="379.80" y="230.30" width="5.28" height="7.00" fill="#326cb0"/><rect x="385.08" y="230.30" width="5.28" height="7.00" fill="#326cb0"/><rect x="390.36" y="230.30" width="5.28" height="7.00" fill="#f3dada"/><rect x="273.00" y="237.30" width="5.28" height="7.00" fill="#c85052"/><rect x="278.28" y="237.30" width="5.28" height="7.00" fill="#326cb0"/><rect x="283.56" y="237.30" width="5.28" height="7.00" fill="#f6f3f6"/><rect x="288.84" y="237.30" width="5.28" height="7.00" fill="#4e86c2"/><rect x="294.12" y="237.30" width="5.28" height="7.00" fill="#326cb0"/><rect x="299.40" y="237.30" width="5.28" height="7.00" fill="#7aa4d2"/><rect x="304.68" y="237.30" width="5.28" height="7.00" fill="#7aa4d2"/><rect x="309.96" y="237.30" width="5.28" height="7.00" fill="#f6f3f6"/><rect x="315.24" y="237.30" width="5.28" height="7.00" fill="#edbcba"/><rect x="320.52" y="237.30" width="5.28" height="7.00" fill="#edbcba"/><rect x="325.80" y="237.30" width="5.28" height="7.00" fill="#f6f3f6"/><rect x="331.08" y="237.30" width="5.28" height="7.00" fill="#aac6e5"/><rect x="337.56" y="237.30" width="5.28" height="7.00" fill="#d4e3f2"/><rect x="342.84" y="237.30" width="5.28" height="7.00" fill="#7aa4d2"/><rect x="348.12" y="237.30" width="5.28" height="7.00" fill="#4e86c2"/><rect x="353.40" y="237.30" width="5.28" height="7.00" fill="#7aa4d2"/><rect x="358.68" y="237.30" width="5.28" height="7.00" fill="#4e86c2"/><rect x="363.96" y="237.30" width="5.28" height="7.00" fill="#4e86c2"/><rect x="369.24" y="237.30" width="5.28" height="7.00" fill="#f6f3f6"/><rect x="374.52" y="237.30" width="5.28" height="7.00" fill="#edbcba"/><rect x="379.80" y="237.30" width="5.28" height="7.00" fill="#326cb0"/><rect x="385.08" y="237.30" width="5.28" height="7.00" fill="#aac6e5"/><rect x="390.36" y="237.30" width="5.28" height="7.00" fill="#d4e3f2"/><rect x="273.00" y="244.30" width="5.28" height="7.00" fill="#b4343c"/><rect x="278.28" y="244.30" width="5.28" height="7.00" fill="#c85052"/><rect x="283.56" y="244.30" width="5.28" height="7.00" fill="#edbcba"/><rect x="288.84" y="244.30" width="5.28" height="7.00" fill="#d77270"/><rect x="294.12" y="244.30" width="5.28" height="7.00" fill="#b4343c"/><rect x="299.40" y="244.30" width="5.28" height="7.00" fill="#c85052"/><rect x="304.68" y="244.30" width="5.28" height="7.00" fill="#edbcba"/><rect x="309.96" y="244.30" width="5.28" height="7.00" fill="#b4343c"/><rect x="315.24" y="244.30" width="5.28" height="7.00" fill="#d77270"/><rect x="320.52" y="244.30" width="5.28" height="7.00" fill="#edbcba"/><rect x="325.80" y="244.30" width="5.28" height="7.00" fill="#d77270"/><rect x="331.08" y="244.30" width="5.28" height="7.00" fill="#c85052"/><rect x="337.56" y="244.30" width="5.28" height="7.00" fill="#326cb0"/><rect x="342.84" y="244.30" width="5.28" height="7.00" fill="#c85052"/><rect x="348.12" y="244.30" width="5.28" height="7.00" fill="#d77270"/><rect x="353.40" y="244.30" width="5.28" height="7.00" fill="#326cb0"/><rect x="358.68" y="244.30" width="5.28" height="7.00" fill="#d77270"/><rect x="363.96" y="244.30" width="5.28" height="7.00" fill="#c85052"/><rect x="369.24" y="244.30" width="5.28" height="7.00" fill="#c85052"/><rect x="374.52" y="244.30" width="5.28" height="7.00" fill="#326cb0"/><rect x="379.80" y="244.30" width="5.28" height="7.00" fill="#c85052"/><rect x="385.08" y="244.30" width="5.28" height="7.00" fill="#c85052"/><rect x="390.36" y="244.30" width="5.28" height="7.00" fill="#326cb0"/><rect x="273.00" y="251.30" width="5.28" height="7.00" fill="#edbcba"/><rect x="278.28" y="251.30" width="5.28" height="7.00" fill="#edbcba"/><rect x="283.56" y="251.30" width="5.28" height="7.00" fill="#d77270"/><rect x="288.84" y="251.30" width="5.28" height="7.00" fill="#d77270"/><rect x="294.12" y="251.30" width="5.28" height="7.00" fill="#d77270"/><rect x="299.40" y="251.30" width="5.28" height="7.00" fill="#e49694"/><rect x="304.68" y="251.30" width="5.28" height="7.00" fill="#e49694"/><rect x="309.96" y="251.30" width="5.28" height="7.00" fill="#c85052"/><rect x="315.24" y="251.30" width="5.28" height="7.00" fill="#d77270"/><rect x="320.52" y="251.30" width="5.28" height="7.00" fill="#edbcba"/><rect x="325.80" y="251.30" width="5.28" height="7.00" fill="#e49694"/><rect x="331.08" y="251.30" width="5.28" height="7.00" fill="#d77270"/><rect x="337.56" y="251.30" width="5.28" height="7.00" fill="#4e86c2"/><rect x="342.84" y="251.30" width="5.28" height="7.00" fill="#edbcba"/><rect x="348.12" y="251.30" width="5.28" height="7.00" fill="#d77270"/><rect x="353.40" y="251.30" width="5.28" height="7.00" fill="#7aa4d2"/><rect x="358.68" y="251.30" width="5.28" height="7.00" fill="#d77270"/><rect x="363.96" y="251.30" width="5.28" height="7.00" fill="#c85052"/><rect x="369.24" y="251.30" width="5.28" height="7.00" fill="#d77270"/><rect x="374.52" y="251.30" width="5.28" height="7.00" fill="#4e86c2"/><rect x="379.80" y="251.30" width="5.28" height="7.00" fill="#b4343c"/><rect x="385.08" y="251.30" width="5.28" height="7.00" fill="#edbcba"/><rect x="390.36" y="251.30" width="5.28" height="7.00" fill="#4e86c2"/><rect x="273.00" y="258.30" width="5.28" height="7.00" fill="#e49694"/><rect x="278.28" y="258.30" width="5.28" height="7.00" fill="#c85052"/><rect x="283.56" y="258.30" width="5.28" height="7.00" fill="#f6f3f6"/><rect x="288.84" y="258.30" width="5.28" height="7.00" fill="#f3dada"/><rect x="294.12" y="258.30" width="5.28" height="7.00" fill="#d77270"/><rect x="299.40" y="258.30" width="5.28" height="7.00" fill="#d77270"/><rect x="304.68" y="258.30" width="5.28" height="7.00" fill="#326cb0"/><rect x="309.96" y="258.30" width="5.28" height="7.00" fill="#d77270"/><rect x="315.24" y="258.30" width="5.28" height="7.00" fill="#d77270"/><rect x="320.52" y="258.30" width="5.28" height="7.00" fill="#326cb0"/><rect x="325.80" y="258.30" width="5.28" height="7.00" fill="#c85052"/><rect x="331.08" y="258.30" width="5.28" height="7.00" fill="#d77270"/><rect x="337.56" y="258.30" width="5.28" height="7.00" fill="#326cb0"/><rect x="342.84" y="258.30" width="5.28" height="7.00" fill="#d77270"/><rect x="348.12" y="258.30" width="5.28" height="7.00" fill="#edbcba"/><rect x="353.40" y="258.30" width="5.28" height="7.00" fill="#4e86c2"/><rect x="358.68" y="258.30" width="5.28" height="7.00" fill="#edbcba"/><rect x="363.96" y="258.30" width="5.28" height="7.00" fill="#c85052"/><rect x="369.24" y="258.30" width="5.28" height="7.00" fill="#c85052"/><rect x="374.52" y="258.30" width="5.28" height="7.00" fill="#7aa4d2"/><rect x="379.80" y="258.30" width="5.28" height="7.00" fill="#c85052"/><rect x="385.08" y="258.30" width="5.28" height="7.00" fill="#e49694"/><rect x="390.36" y="258.30" width="5.28" height="7.00" fill="#7aa4d2"/><rect x="273.00" y="265.30" width="5.28" height="7.00" fill="#b4343c"/><rect x="278.28" y="265.30" width="5.28" height="7.00" fill="#e49694"/><rect x="283.56" y="265.30" width="5.28" height="7.00" fill="#f3dada"/><rect x="288.84" y="265.30" width="5.28" height="7.00" fill="#e49694"/><rect x="294.12" y="265.30" width="5.28" height="7.00" fill="#d77270"/><rect x="299.40" y="265.30" width="5.28" height="7.00" fill="#e49694"/><rect x="304.68" y="265.30" width="5.28" height="7.00" fill="#e49694"/><rect x="309.96" y="265.30" width="5.28" height="7.00" fill="#d77270"/><rect x="315.24" y="265.30" width="5.28" height="7.00" fill="#e49694"/><rect x="320.52" y="265.30" width="5.28" height="7.00" fill="#f3dada"/><rect x="325.80" y="265.30" width="5.28" height="7.00" fill="#c85052"/><rect x="331.08" y="265.30" width="5.28" height="7.00" fill="#d77270"/><rect x="337.56" y="265.30" width="5.28" height="7.00" fill="#326cb0"/><rect x="342.84" y="265.30" width="5.28" height="7.00" fill="#d77270"/><rect x="348.12" y="265.30" width="5.28" height="7.00" fill="#d77270"/><rect x="353.40" y="265.30" width="5.28" height="7.00" fill="#4e86c2"/><rect x="358.68" y="265.30" width="5.28" height="7.00" fill="#edbcba"/><rect x="363.96" y="265.30" width="5.28" height="7.00" fill="#d77270"/><rect x="369.24" y="265.30" width="5.28" height="7.00" fill="#d77270"/><rect x="374.52" y="265.30" width="5.28" height="7.00" fill="#f6f3f6"/><rect x="379.80" y="265.30" width="5.28" height="7.00" fill="#d77270"/><rect x="385.08" y="265.30" width="5.28" height="7.00" fill="#e49694"/><rect x="390.36" y="265.30" width="5.28" height="7.00" fill="#7aa4d2"/><rect x="273.00" y="272.30" width="5.28" height="7.00" fill="#c85052"/><rect x="278.28" y="272.30" width="5.28" height="7.00" fill="#d77270"/><rect x="283.56" y="272.30" width="5.28" height="7.00" fill="#f6f3f6"/><rect x="288.84" y="272.30" width="5.28" height="7.00" fill="#f3dada"/><rect x="294.12" y="272.30" width="5.28" height="7.00" fill="#d77270"/><rect x="299.40" y="272.30" width="5.28" height="7.00" fill="#d77270"/><rect x="304.68" y="272.30" width="5.28" height="7.00" fill="#f6f3f6"/><rect x="309.96" y="272.30" width="5.28" height="7.00" fill="#b4343c"/><rect x="315.24" y="272.30" width="5.28" height="7.00" fill="#c85052"/><rect x="320.52" y="272.30" width="5.28" height="7.00" fill="#f3dada"/><rect x="325.80" y="272.30" width="5.28" height="7.00" fill="#d77270"/><rect x="331.08" y="272.30" width="5.28" height="7.00" fill="#c85052"/><rect x="337.56" y="272.30" width="5.28" height="7.00" fill="#4e86c2"/><rect x="342.84" y="272.30" width="5.28" height="7.00" fill="#c85052"/><rect x="348.12" y="272.30" width="5.28" height="7.00" fill="#e49694"/><rect x="353.40" y="272.30" width="5.28" height="7.00" fill="#326cb0"/><rect x="358.68" y="272.30" width="5.28" height="7.00" fill="#f6f3f6"/><rect x="363.96" y="272.30" width="5.28" height="7.00" fill="#c85052"/><rect x="369.24" y="272.30" width="5.28" height="7.00" fill="#c85052"/><rect x="374.52" y="272.30" width="5.28" height="7.00" fill="#aac6e5"/><rect x="379.80" y="272.30" width="5.28" height="7.00" fill="#c85052"/><rect x="385.08" y="272.30" width="5.28" height="7.00" fill="#c85052"/><rect x="390.36" y="272.30" width="5.28" height="7.00" fill="#4e86c2"/><rect x="273.00" y="279.30" width="5.28" height="7.00" fill="#d77270"/><rect x="278.28" y="279.30" width="5.28" height="7.00" fill="#d77270"/><rect x="283.56" y="279.30" width="5.28" height="7.00" fill="#f6f3f6"/><rect x="288.84" y="279.30" width="5.28" height="7.00" fill="#e49694"/><rect x="294.12" y="279.30" width="5.28" height="7.00" fill="#c85052"/><rect x="299.40" y="279.30" width="5.28" height="7.00" fill="#c85052"/><rect x="304.68" y="279.30" width="5.28" height="7.00" fill="#f3dada"/><rect x="309.96" y="279.30" width="5.28" height="7.00" fill="#d77270"/><rect x="315.24" y="279.30" width="5.28" height="7.00" fill="#d77270"/><rect x="320.52" y="279.30" width="5.28" height="7.00" fill="#f3dada"/><rect x="325.80" y="279.30" width="5.28" height="7.00" fill="#b4343c"/><rect x="331.08" y="279.30" width="5.28" height="7.00" fill="#c85052"/><rect x="337.56" y="279.30" width="5.28" height="7.00" fill="#4e86c2"/><rect x="342.84" y="279.30" width="5.28" height="7.00" fill="#c85052"/><rect x="348.12" y="279.30" width="5.28" height="7.00" fill="#c85052"/><rect x="353.40" y="279.30" width="5.28" height="7.00" fill="#4e86c2"/><rect x="358.68" y="279.30" width="5.28" height="7.00" fill="#f3dada"/><rect x="363.96" y="279.30" width="5.28" height="7.00" fill="#c85052"/><rect x="369.24" y="279.30" width="5.28" height="7.00" fill="#c85052"/><rect x="374.52" y="279.30" width="5.28" height="7.00" fill="#f6f3f6"/><rect x="379.80" y="279.30" width="5.28" height="7.00" fill="#c85052"/><rect x="385.08" y="279.30" width="5.28" height="7.00" fill="#c85052"/><rect x="390.36" y="279.30" width="5.28" height="7.00" fill="#4e86c2"/><rect x="273.00" y="286.30" width="5.28" height="7.00" fill="#e49694"/><rect x="278.28" y="286.30" width="5.28" height="7.00" fill="#d77270"/><rect x="283.56" y="286.30" width="5.28" height="7.00" fill="#f3dada"/><rect x="288.84" y="286.30" width="5.28" height="7.00" fill="#d77270"/><rect x="294.12" y="286.30" width="5.28" height="7.00" fill="#c85052"/><rect x="299.40" y="286.30" width="5.28" height="7.00" fill="#b4343c"/><rect x="304.68" y="286.30" width="5.28" height="7.00" fill="#f3dada"/><rect x="309.96" y="286.30" width="5.28" height="7.00" fill="#c85052"/><rect x="315.24" y="286.30" width="5.28" height="7.00" fill="#d77270"/><rect x="320.52" y="286.30" width="5.28" height="7.00" fill="#f6f3f6"/><rect x="325.80" y="286.30" width="5.28" height="7.00" fill="#b4343c"/><rect x="331.08" y="286.30" width="5.28" height="7.00" fill="#c85052"/><rect x="337.56" y="286.30" width="5.28" height="7.00" fill="#326cb0"/><rect x="342.84" y="286.30" width="5.28" height="7.00" fill="#c85052"/><rect x="348.12" y="286.30" width="5.28" height="7.00" fill="#c85052"/><rect x="353.40" y="286.30" width="5.28" height="7.00" fill="#7aa4d2"/><rect x="358.68" y="286.30" width="5.28" height="7.00" fill="#f6f3f6"/><rect x="363.96" y="286.30" width="5.28" height="7.00" fill="#c85052"/><rect x="369.24" y="286.30" width="5.28" height="7.00" fill="#b4343c"/><rect x="374.52" y="286.30" width="5.28" height="7.00" fill="#f6f3f6"/><rect x="379.80" y="286.30" width="5.28" height="7.00" fill="#c85052"/><rect x="385.08" y="286.30" width="5.28" height="7.00" fill="#c85052"/><rect x="390.36" y="286.30" width="5.28" height="7.00" fill="#aac6e5"/><rect x="273.00" y="293.30" width="5.28" height="7.00" fill="#c85052"/><rect x="278.28" y="293.30" width="5.28" height="7.00" fill="#d77270"/><rect x="283.56" y="293.30" width="5.28" height="7.00" fill="#f6f3f6"/><rect x="288.84" y="293.30" width="5.28" height="7.00" fill="#e49694"/><rect x="294.12" y="293.30" width="5.28" height="7.00" fill="#d77270"/><rect x="299.40" y="293.30" width="5.28" height="7.00" fill="#d77270"/><rect x="304.68" y="293.30" width="5.28" height="7.00" fill="#f6f3f6"/><rect x="309.96" y="293.30" width="5.28" height="7.00" fill="#d77270"/><rect x="315.24" y="293.30" width="5.28" height="7.00" fill="#d77270"/><rect x="320.52" y="293.30" width="5.28" height="7.00" fill="#f3dada"/><rect x="325.80" y="293.30" width="5.28" height="7.00" fill="#d77270"/><rect x="331.08" y="293.30" width="5.28" height="7.00" fill="#c85052"/><rect x="337.56" y="293.30" width="5.28" height="7.00" fill="#7aa4d2"/><rect x="342.84" y="293.30" width="5.28" height="7.00" fill="#e49694"/><rect x="348.12" y="293.30" width="5.28" height="7.00" fill="#f3dada"/><rect x="353.40" y="293.30" width="5.28" height="7.00" fill="#4e86c2"/><rect x="358.68" y="293.30" width="5.28" height="7.00" fill="#edbcba"/><rect x="363.96" y="293.30" width="5.28" height="7.00" fill="#d77270"/><rect x="369.24" y="293.30" width="5.28" height="7.00" fill="#e49694"/><rect x="374.52" y="293.30" width="5.28" height="7.00" fill="#4e86c2"/><rect x="379.80" y="293.30" width="5.28" height="7.00" fill="#edbcba"/><rect x="385.08" y="293.30" width="5.28" height="7.00" fill="#e49694"/><rect x="390.36" y="293.30" width="5.28" height="7.00" fill="#4e86c2"/><rect x="273.00" y="300.30" width="5.28" height="7.00" fill="#e49694"/><rect x="278.28" y="300.30" width="5.28" height="7.00" fill="#c85052"/><rect x="283.56" y="300.30" width="5.28" height="7.00" fill="#f6f3f6"/><rect x="288.84" y="300.30" width="5.28" height="7.00" fill="#f6f3f6"/><rect x="294.12" y="300.30" width="5.28" height="7.00" fill="#c85052"/><rect x="299.40" y="300.30" width="5.28" height="7.00" fill="#c85052"/><rect x="304.68" y="300.30" width="5.28" height="7.00" fill="#f6f3f6"/><rect x="309.96" y="300.30" width="5.28" height="7.00" fill="#d77270"/><rect x="315.24" y="300.30" width="5.28" height="7.00" fill="#e49694"/><rect x="320.52" y="300.30" width="5.28" height="7.00" fill="#d4e3f2"/><rect x="325.80" y="300.30" width="5.28" height="7.00" fill="#b4343c"/><rect x="331.08" y="300.30" width="5.28" height="7.00" fill="#d77270"/><rect x="337.56" y="300.30" width="5.28" height="7.00" fill="#326cb0"/><rect x="342.84" y="300.30" width="5.28" height="7.00" fill="#d77270"/><rect x="348.12" y="300.30" width="5.28" height="7.00" fill="#edbcba"/><rect x="353.40" y="300.30" width="5.28" height="7.00" fill="#4e86c2"/><rect x="358.68" y="300.30" width="5.28" height="7.00" fill="#f6f3f6"/><rect x="363.96" y="300.30" width="5.28" height="7.00" fill="#c85052"/><rect x="369.24" y="300.30" width="5.28" height="7.00" fill="#d77270"/><rect x="374.52" y="300.30" width="5.28" height="7.00" fill="#7aa4d2"/><rect x="379.80" y="300.30" width="5.28" height="7.00" fill="#c85052"/><rect x="385.08" y="300.30" width="5.28" height="7.00" fill="#d77270"/><rect x="390.36" y="300.30" width="5.28" height="7.00" fill="#4e86c2"/><rect x="273.00" y="307.30" width="5.28" height="7.00" fill="#d77270"/><rect x="278.28" y="307.30" width="5.28" height="7.00" fill="#d77270"/><rect x="283.56" y="307.30" width="5.28" height="7.00" fill="#d4e3f2"/><rect x="288.84" y="307.30" width="5.28" height="7.00" fill="#f6f3f6"/><rect x="294.12" y="307.30" width="5.28" height="7.00" fill="#c85052"/><rect x="299.40" y="307.30" width="5.28" height="7.00" fill="#d77270"/><rect x="304.68" y="307.30" width="5.28" height="7.00" fill="#f6f3f6"/><rect x="309.96" y="307.30" width="5.28" height="7.00" fill="#c85052"/><rect x="315.24" y="307.30" width="5.28" height="7.00" fill="#c85052"/><rect x="320.52" y="307.30" width="5.28" height="7.00" fill="#f6f3f6"/><rect x="325.80" y="307.30" width="5.28" height="7.00" fill="#c85052"/><rect x="331.08" y="307.30" width="5.28" height="7.00" fill="#d77270"/><rect x="337.56" y="307.30" width="5.28" height="7.00" fill="#326cb0"/><rect x="342.84" y="307.30" width="5.28" height="7.00" fill="#d77270"/><rect x="348.12" y="307.30" width="5.28" height="7.00" fill="#edbcba"/><rect x="353.40" y="307.30" width="5.28" height="7.00" fill="#4e86c2"/><rect x="358.68" y="307.30" width="5.28" height="7.00" fill="#f6f3f6"/><rect x="363.96" y="307.30" width="5.28" height="7.00" fill="#c85052"/><rect x="369.24" y="307.30" width="5.28" height="7.00" fill="#c85052"/><rect x="374.52" y="307.30" width="5.28" height="7.00" fill="#aac6e5"/><rect x="379.80" y="307.30" width="5.28" height="7.00" fill="#c85052"/><rect x="385.08" y="307.30" width="5.28" height="7.00" fill="#d77270"/><rect x="390.36" y="307.30" width="5.28" height="7.00" fill="#4e86c2"/><rect x="273.00" y="314.30" width="5.28" height="7.00" fill="#d77270"/><rect x="278.28" y="314.30" width="5.28" height="7.00" fill="#c85052"/><rect x="283.56" y="314.30" width="5.28" height="7.00" fill="#d4e3f2"/><rect x="288.84" y="314.30" width="5.28" height="7.00" fill="#f3dada"/><rect x="294.12" y="314.30" width="5.28" height="7.00" fill="#c85052"/><rect x="299.40" y="314.30" width="5.28" height="7.00" fill="#c85052"/><rect x="304.68" y="314.30" width="5.28" height="7.00" fill="#edbcba"/><rect x="309.96" y="314.30" width="5.28" height="7.00" fill="#c85052"/><rect x="315.24" y="314.30" width="5.28" height="7.00" fill="#c85052"/><rect x="320.52" y="314.30" width="5.28" height="7.00" fill="#f6f3f6"/><rect x="325.80" y="314.30" width="5.28" height="7.00" fill="#d77270"/><rect x="331.08" y="314.30" width="5.28" height="7.00" fill="#d77270"/><rect x="337.56" y="314.30" width="5.28" height="7.00" fill="#326cb0"/><rect x="342.84" y="314.30" width="5.28" height="7.00" fill="#c85052"/><rect x="348.12" y="314.30" width="5.28" height="7.00" fill="#d77270"/><rect x="353.40" y="314.30" width="5.28" height="7.00" fill="#4e86c2"/><rect x="358.68" y="314.30" width="5.28" height="7.00" fill="#f6f3f6"/><rect x="363.96" y="314.30" width="5.28" height="7.00" fill="#c85052"/><rect x="369.24" y="314.30" width="5.28" height="7.00" fill="#c85052"/><rect x="374.52" y="314.30" width="5.28" height="7.00" fill="#aac6e5"/><rect x="379.80" y="314.30" width="5.28" height="7.00" fill="#c85052"/><rect x="385.08" y="314.30" width="5.28" height="7.00" fill="#c85052"/><rect x="390.36" y="314.30" width="5.28" height="7.00" fill="#4e86c2"/><rect x="273.00" y="321.30" width="5.28" height="7.00" fill="#c85052"/><rect x="278.28" y="321.30" width="5.28" height="7.00" fill="#c85052"/><rect x="283.56" y="321.30" width="5.28" height="7.00" fill="#f6f3f6"/><rect x="288.84" y="321.30" width="5.28" height="7.00" fill="#f3dada"/><rect x="294.12" y="321.30" width="5.28" height="7.00" fill="#c85052"/><rect x="299.40" y="321.30" width="5.28" height="7.00" fill="#c85052"/><rect x="304.68" y="321.30" width="5.28" height="7.00" fill="#f3dada"/><rect x="309.96" y="321.30" width="5.28" height="7.00" fill="#c85052"/><rect x="315.24" y="321.30" width="5.28" height="7.00" fill="#b4343c"/><rect x="320.52" y="321.30" width="5.28" height="7.00" fill="#f6f3f6"/><rect x="325.80" y="321.30" width="5.28" height="7.00" fill="#c85052"/><rect x="331.08" y="321.30" width="5.28" height="7.00" fill="#c85052"/><rect x="337.56" y="321.30" width="5.28" height="7.00" fill="#326cb0"/><rect x="342.84" y="321.30" width="5.28" height="7.00" fill="#c85052"/><rect x="348.12" y="321.30" width="5.28" height="7.00" fill="#d77270"/><rect x="353.40" y="321.30" width="5.28" height="7.00" fill="#4e86c2"/><rect x="358.68" y="321.30" width="5.28" height="7.00" fill="#f6f3f6"/><rect x="363.96" y="321.30" width="5.28" height="7.00" fill="#c85052"/><rect x="369.24" y="321.30" width="5.28" height="7.00" fill="#c85052"/><rect x="374.52" y="321.30" width="5.28" height="7.00" fill="#d4e3f2"/><rect x="379.80" y="321.30" width="5.28" height="7.00" fill="#c85052"/><rect x="385.08" y="321.30" width="5.28" height="7.00" fill="#c85052"/><rect x="390.36" y="321.30" width="5.28" height="7.00" fill="#7aa4d2"/><rect x="273.00" y="328.30" width="5.28" height="7.00" fill="#f3dada"/><rect x="278.28" y="328.30" width="5.28" height="7.00" fill="#f6f3f6"/><rect x="283.56" y="328.30" width="5.28" height="7.00" fill="#d77270"/><rect x="288.84" y="328.30" width="5.28" height="7.00" fill="#b4343c"/><rect x="294.12" y="328.30" width="5.28" height="7.00" fill="#f6f3f6"/><rect x="299.40" y="328.30" width="5.28" height="7.00" fill="#f6f3f6"/><rect x="304.68" y="328.30" width="5.28" height="7.00" fill="#d77270"/><rect x="309.96" y="328.30" width="5.28" height="7.00" fill="#edbcba"/><rect x="315.24" y="328.30" width="5.28" height="7.00" fill="#edbcba"/><rect x="320.52" y="328.30" width="5.28" height="7.00" fill="#c85052"/><rect x="325.80" y="328.30" width="5.28" height="7.00" fill="#f3dada"/><rect x="331.08" y="328.30" width="5.28" height="7.00" fill="#f3dada"/><rect x="337.56" y="328.30" width="5.28" height="7.00" fill="#f3dada"/><rect x="342.84" y="328.30" width="5.28" height="7.00" fill="#e49694"/><rect x="348.12" y="328.30" width="5.28" height="7.00" fill="#c85052"/><rect x="353.40" y="328.30" width="5.28" height="7.00" fill="#f3dada"/><rect x="358.68" y="328.30" width="5.28" height="7.00" fill="#c85052"/><rect x="363.96" y="328.30" width="5.28" height="7.00" fill="#edbcba"/><rect x="369.24" y="328.30" width="5.28" height="7.00" fill="#edbcba"/><rect x="374.52" y="328.30" width="5.28" height="7.00" fill="#326cb0"/><rect x="379.80" y="328.30" width="5.28" height="7.00" fill="#e49694"/><rect x="385.08" y="328.30" width="5.28" height="7.00" fill="#edbcba"/><rect x="390.36" y="328.30" width="5.28" height="7.00" fill="#e49694"/><rect x="273.00" y="335.30" width="5.28" height="7.00" fill="#aac6e5"/><rect x="278.28" y="335.30" width="5.28" height="7.00" fill="#f6f3f6"/><rect x="283.56" y="335.30" width="5.28" height="7.00" fill="#c85052"/><rect x="288.84" y="335.30" width="5.28" height="7.00" fill="#b4343c"/><rect x="294.12" y="335.30" width="5.28" height="7.00" fill="#d4e3f2"/><rect x="299.40" y="335.30" width="5.28" height="7.00" fill="#aac6e5"/><rect x="304.68" y="335.30" width="5.28" height="7.00" fill="#d77270"/><rect x="309.96" y="335.30" width="5.28" height="7.00" fill="#edbcba"/><rect x="315.24" y="335.30" width="5.28" height="7.00" fill="#edbcba"/><rect x="320.52" y="335.30" width="5.28" height="7.00" fill="#d77270"/><rect x="325.80" y="335.30" width="5.28" height="7.00" fill="#f6f3f6"/><rect x="331.08" y="335.30" width="5.28" height="7.00" fill="#f6f3f6"/><rect x="337.56" y="335.30" width="5.28" height="7.00" fill="#326cb0"/><rect x="342.84" y="335.30" width="5.28" height="7.00" fill="#7aa4d2"/><rect x="348.12" y="335.30" width="5.28" height="7.00" fill="#c85052"/><rect x="353.40" y="335.30" width="5.28" height="7.00" fill="#4e86c2"/><rect x="358.68" y="335.30" width="5.28" height="7.00" fill="#c85052"/><rect x="363.96" y="335.30" width="5.28" height="7.00" fill="#f6f3f6"/><rect x="369.24" y="335.30" width="5.28" height="7.00" fill="#f6f3f6"/><rect x="374.52" y="335.30" width="5.28" height="7.00" fill="#4e86c2"/><rect x="379.80" y="335.30" width="5.28" height="7.00" fill="#edbcba"/><rect x="385.08" y="335.30" width="5.28" height="7.00" fill="#f6f3f6"/><rect x="390.36" y="335.30" width="5.28" height="7.00" fill="#326cb0"/><rect x="273.00" y="342.30" width="5.28" height="7.00" fill="#7aa4d2"/><rect x="278.28" y="342.30" width="5.28" height="7.00" fill="#f6f3f6"/><rect x="283.56" y="342.30" width="5.28" height="7.00" fill="#c85052"/><rect x="288.84" y="342.30" width="5.28" height="7.00" fill="#b4343c"/><rect x="294.12" y="342.30" width="5.28" height="7.00" fill="#d4e3f2"/><rect x="299.40" y="342.30" width="5.28" height="7.00" fill="#f6f3f6"/><rect x="304.68" y="342.30" width="5.28" height="7.00" fill="#d77270"/><rect x="309.96" y="342.30" width="5.28" height="7.00" fill="#edbcba"/><rect x="315.24" y="342.30" width="5.28" height="7.00" fill="#edbcba"/><rect x="320.52" y="342.30" width="5.28" height="7.00" fill="#d77270"/><rect x="325.80" y="342.30" width="5.28" height="7.00" fill="#f6f3f6"/><rect x="331.08" y="342.30" width="5.28" height="7.00" fill="#f3dada"/><rect x="337.56" y="342.30" width="5.28" height="7.00" fill="#4e86c2"/><rect x="342.84" y="342.30" width="5.28" height="7.00" fill="#aac6e5"/><rect x="348.12" y="342.30" width="5.28" height="7.00" fill="#c85052"/><rect x="353.40" y="342.30" width="5.28" height="7.00" fill="#4e86c2"/><rect x="358.68" y="342.30" width="5.28" height="7.00" fill="#c85052"/><rect x="363.96" y="342.30" width="5.28" height="7.00" fill="#f6f3f6"/><rect x="369.24" y="342.30" width="5.28" height="7.00" fill="#f6f3f6"/><rect x="374.52" y="342.30" width="5.28" height="7.00" fill="#4e86c2"/><rect x="379.80" y="342.30" width="5.28" height="7.00" fill="#edbcba"/><rect x="385.08" y="342.30" width="5.28" height="7.00" fill="#f6f3f6"/><rect x="390.36" y="342.30" width="5.28" height="7.00" fill="#326cb0"/><rect x="273.00" y="349.30" width="5.28" height="7.00" fill="#f3dada"/><rect x="278.28" y="349.30" width="5.28" height="7.00" fill="#aac6e5"/><rect x="283.56" y="349.30" width="5.28" height="7.00" fill="#d77270"/><rect x="288.84" y="349.30" width="5.28" height="7.00" fill="#c85052"/><rect x="294.12" y="349.30" width="5.28" height="7.00" fill="#7aa4d2"/><rect x="299.40" y="349.30" width="5.28" height="7.00" fill="#aac6e5"/><rect x="304.68" y="349.30" width="5.28" height="7.00" fill="#e49694"/><rect x="309.96" y="349.30" width="5.28" height="7.00" fill="#4e86c2"/><rect x="315.24" y="349.30" width="5.28" height="7.00" fill="#7aa4d2"/><rect x="320.52" y="349.30" width="5.28" height="7.00" fill="#d77270"/><rect x="325.80" y="349.30" width="5.28" height="7.00" fill="#f6f3f6"/><rect x="331.08" y="349.30" width="5.28" height="7.00" fill="#7aa4d2"/><rect x="337.56" y="349.30" width="5.28" height="7.00" fill="#7aa4d2"/><rect x="342.84" y="349.30" width="5.28" height="7.00" fill="#f6f3f6"/><rect x="348.12" y="349.30" width="5.28" height="7.00" fill="#c85052"/><rect x="353.40" y="349.30" width="5.28" height="7.00" fill="#7aa4d2"/><rect x="358.68" y="349.30" width="5.28" height="7.00" fill="#c85052"/><rect x="363.96" y="349.30" width="5.28" height="7.00" fill="#7aa4d2"/><rect x="369.24" y="349.30" width="5.28" height="7.00" fill="#aac6e5"/><rect x="374.52" y="349.30" width="5.28" height="7.00" fill="#7aa4d2"/><rect x="379.80" y="349.30" width="5.28" height="7.00" fill="#aac6e5"/><rect x="385.08" y="349.30" width="5.28" height="7.00" fill="#7aa4d2"/><rect x="390.36" y="349.30" width="5.28" height="7.00" fill="#aac6e5"/><rect x="273.00" y="356.30" width="5.28" height="7.00" fill="#c85052"/><rect x="278.28" y="356.30" width="5.28" height="7.00" fill="#f6f3f6"/><rect x="283.56" y="356.30" width="5.28" height="7.00" fill="#d77270"/><rect x="288.84" y="356.30" width="5.28" height="7.00" fill="#c85052"/><rect x="294.12" y="356.30" width="5.28" height="7.00" fill="#d4e3f2"/><rect x="299.40" y="356.30" width="5.28" height="7.00" fill="#4e86c2"/><rect x="304.68" y="356.30" width="5.28" height="7.00" fill="#d77270"/><rect x="309.96" y="356.30" width="5.28" height="7.00" fill="#4e86c2"/><rect x="315.24" y="356.30" width="5.28" height="7.00" fill="#f6f3f6"/><rect x="320.52" y="356.30" width="5.28" height="7.00" fill="#c85052"/><rect x="325.80" y="356.30" width="5.28" height="7.00" fill="#aac6e5"/><rect x="331.08" y="356.30" width="5.28" height="7.00" fill="#f6f3f6"/><rect x="337.56" y="356.30" width="5.28" height="7.00" fill="#7aa4d2"/><rect x="342.84" y="356.30" width="5.28" height="7.00" fill="#edbcba"/><rect x="348.12" y="356.30" width="5.28" height="7.00" fill="#c85052"/><rect x="353.40" y="356.30" width="5.28" height="7.00" fill="#f6f3f6"/><rect x="358.68" y="356.30" width="5.28" height="7.00" fill="#c85052"/><rect x="363.96" y="356.30" width="5.28" height="7.00" fill="#aac6e5"/><rect x="369.24" y="356.30" width="5.28" height="7.00" fill="#aac6e5"/><rect x="374.52" y="356.30" width="5.28" height="7.00" fill="#f6f3f6"/><rect x="379.80" y="356.30" width="5.28" height="7.00" fill="#aac6e5"/><rect x="385.08" y="356.30" width="5.28" height="7.00" fill="#7aa4d2"/><rect x="390.36" y="356.30" width="5.28" height="7.00" fill="#f6f3f6"/><rect x="273.00" y="363.30" width="5.28" height="7.00" fill="#c85052"/><rect x="278.28" y="363.30" width="5.28" height="7.00" fill="#f6f3f6"/><rect x="283.56" y="363.30" width="5.28" height="7.00" fill="#c85052"/><rect x="288.84" y="363.30" width="5.28" height="7.00" fill="#c85052"/><rect x="294.12" y="363.30" width="5.28" height="7.00" fill="#d4e3f2"/><rect x="299.40" y="363.30" width="5.28" height="7.00" fill="#aac6e5"/><rect x="304.68" y="363.30" width="5.28" height="7.00" fill="#c85052"/><rect x="309.96" y="363.30" width="5.28" height="7.00" fill="#4e86c2"/><rect x="315.24" y="363.30" width="5.28" height="7.00" fill="#d4e3f2"/><rect x="320.52" y="363.30" width="5.28" height="7.00" fill="#d77270"/><rect x="325.80" y="363.30" width="5.28" height="7.00" fill="#f6f3f6"/><rect x="331.08" y="363.30" width="5.28" height="7.00" fill="#d4e3f2"/><rect x="337.56" y="363.30" width="5.28" height="7.00" fill="#f6f3f6"/><rect x="342.84" y="363.30" width="5.28" height="7.00" fill="#e49694"/><rect x="348.12" y="363.30" width="5.28" height="7.00" fill="#c85052"/><rect x="353.40" y="363.30" width="5.28" height="7.00" fill="#f6f3f6"/><rect x="358.68" y="363.30" width="5.28" height="7.00" fill="#c85052"/><rect x="363.96" y="363.30" width="5.28" height="7.00" fill="#aac6e5"/><rect x="369.24" y="363.30" width="5.28" height="7.00" fill="#d4e3f2"/><rect x="374.52" y="363.30" width="5.28" height="7.00" fill="#f6f3f6"/><rect x="379.80" y="363.30" width="5.28" height="7.00" fill="#f6f3f6"/><rect x="385.08" y="363.30" width="5.28" height="7.00" fill="#aac6e5"/><rect x="390.36" y="363.30" width="5.28" height="7.00" fill="#d4e3f2"/><rect x="273.00" y="370.30" width="5.28" height="7.00" fill="#f3dada"/><rect x="278.28" y="370.30" width="5.28" height="7.00" fill="#7aa4d2"/><rect x="283.56" y="370.30" width="5.28" height="7.00" fill="#c85052"/><rect x="288.84" y="370.30" width="5.28" height="7.00" fill="#c85052"/><rect x="294.12" y="370.30" width="5.28" height="7.00" fill="#4e86c2"/><rect x="299.40" y="370.30" width="5.28" height="7.00" fill="#4e86c2"/><rect x="304.68" y="370.30" width="5.28" height="7.00" fill="#c85052"/><rect x="309.96" y="370.30" width="5.28" height="7.00" fill="#4e86c2"/><rect x="315.24" y="370.30" width="5.28" height="7.00" fill="#7aa4d2"/><rect x="320.52" y="370.30" width="5.28" height="7.00" fill="#c85052"/><rect x="325.80" y="370.30" width="5.28" height="7.00" fill="#4e86c2"/><rect x="331.08" y="370.30" width="5.28" height="7.00" fill="#7aa4d2"/><rect x="337.56" y="370.30" width="5.28" height="7.00" fill="#4e86c2"/><rect x="342.84" y="370.30" width="5.28" height="7.00" fill="#4e86c2"/><rect x="348.12" y="370.30" width="5.28" height="7.00" fill="#c85052"/><rect x="353.40" y="370.30" width="5.28" height="7.00" fill="#7aa4d2"/><rect x="358.68" y="370.30" width="5.28" height="7.00" fill="#c85052"/><rect x="363.96" y="370.30" width="5.28" height="7.00" fill="#f3dada"/><rect x="369.24" y="370.30" width="5.28" height="7.00" fill="#4e86c2"/><rect x="374.52" y="370.30" width="5.28" height="7.00" fill="#326cb0"/><rect x="379.80" y="370.30" width="5.28" height="7.00" fill="#e49694"/><rect x="385.08" y="370.30" width="5.28" height="7.00" fill="#7aa4d2"/><rect x="390.36" y="370.30" width="5.28" height="7.00" fill="#aac6e5"/><rect x="273.00" y="377.30" width="5.28" height="7.00" fill="#4e86c2"/><rect x="278.28" y="377.30" width="5.28" height="7.00" fill="#aac6e5"/><rect x="283.56" y="377.30" width="5.28" height="7.00" fill="#f3dada"/><rect x="288.84" y="377.30" width="5.28" height="7.00" fill="#d77270"/><rect x="294.12" y="377.30" width="5.28" height="7.00" fill="#4e86c2"/><rect x="299.40" y="377.30" width="5.28" height="7.00" fill="#7aa4d2"/><rect x="304.68" y="377.30" width="5.28" height="7.00" fill="#c85052"/><rect x="309.96" y="377.30" width="5.28" height="7.00" fill="#4e86c2"/><rect x="315.24" y="377.30" width="5.28" height="7.00" fill="#7aa4d2"/><rect x="320.52" y="377.30" width="5.28" height="7.00" fill="#c85052"/><rect x="325.80" y="377.30" width="5.28" height="7.00" fill="#4e86c2"/><rect x="331.08" y="377.30" width="5.28" height="7.00" fill="#7aa4d2"/><rect x="337.56" y="377.30" width="5.28" height="7.00" fill="#7aa4d2"/><rect x="342.84" y="377.30" width="5.28" height="7.00" fill="#aac6e5"/><rect x="348.12" y="377.30" width="5.28" height="7.00" fill="#edbcba"/><rect x="353.40" y="377.30" width="5.28" height="7.00" fill="#7aa4d2"/><rect x="358.68" y="377.30" width="5.28" height="7.00" fill="#d77270"/><rect x="363.96" y="377.30" width="5.28" height="7.00" fill="#aac6e5"/><rect x="369.24" y="377.30" width="5.28" height="7.00" fill="#7aa4d2"/><rect x="374.52" y="377.30" width="5.28" height="7.00" fill="#4e86c2"/><rect x="379.80" y="377.30" width="5.28" height="7.00" fill="#aac6e5"/><rect x="385.08" y="377.30" width="5.28" height="7.00" fill="#aac6e5"/><rect x="390.36" y="377.30" width="5.28" height="7.00" fill="#aac6e5"/><rect x="273.00" y="384.30" width="5.28" height="7.00" fill="#4e86c2"/><rect x="278.28" y="384.30" width="5.28" height="7.00" fill="#aac6e5"/><rect x="283.56" y="384.30" width="5.28" height="7.00" fill="#c85052"/><rect x="288.84" y="384.30" width="5.28" height="7.00" fill="#c85052"/><rect x="294.12" y="384.30" width="5.28" height="7.00" fill="#4e86c2"/><rect x="299.40" y="384.30" width="5.28" height="7.00" fill="#7aa4d2"/><rect x="304.68" y="384.30" width="5.28" height="7.00" fill="#d77270"/><rect x="309.96" y="384.30" width="5.28" height="7.00" fill="#7aa4d2"/><rect x="315.24" y="384.30" width="5.28" height="7.00" fill="#7aa4d2"/><rect x="320.52" y="384.30" width="5.28" height="7.00" fill="#d77270"/><rect x="325.80" y="384.30" width="5.28" height="7.00" fill="#4e86c2"/><rect x="331.08" y="384.30" width="5.28" height="7.00" fill="#7aa4d2"/><rect x="337.56" y="384.30" width="5.28" height="7.00" fill="#4e86c2"/><rect x="342.84" y="384.30" width="5.28" height="7.00" fill="#7aa4d2"/><rect x="348.12" y="384.30" width="5.28" height="7.00" fill="#c85052"/><rect x="353.40" y="384.30" width="5.28" height="7.00" fill="#7aa4d2"/><rect x="358.68" y="384.30" width="5.28" height="7.00" fill="#c85052"/><rect x="363.96" y="384.30" width="5.28" height="7.00" fill="#aac6e5"/><rect x="369.24" y="384.30" width="5.28" height="7.00" fill="#7aa4d2"/><rect x="374.52" y="384.30" width="5.28" height="7.00" fill="#4e86c2"/><rect x="379.80" y="384.30" width="5.28" height="7.00" fill="#aac6e5"/><rect x="385.08" y="384.30" width="5.28" height="7.00" fill="#7aa4d2"/><rect x="390.36" y="384.30" width="5.28" height="7.00" fill="#d4e3f2"/><rect x="273.00" y="391.30" width="5.28" height="7.00" fill="#aac6e5"/><rect x="278.28" y="391.30" width="5.28" height="7.00" fill="#7aa4d2"/><rect x="283.56" y="391.30" width="5.28" height="7.00" fill="#c85052"/><rect x="288.84" y="391.30" width="5.28" height="7.00" fill="#c85052"/><rect x="294.12" y="391.30" width="5.28" height="7.00" fill="#4e86c2"/><rect x="299.40" y="391.30" width="5.28" height="7.00" fill="#326cb0"/><rect x="304.68" y="391.30" width="5.28" height="7.00" fill="#d77270"/><rect x="309.96" y="391.30" width="5.28" height="7.00" fill="#7aa4d2"/><rect x="315.24" y="391.30" width="5.28" height="7.00" fill="#4e86c2"/><rect x="320.52" y="391.30" width="5.28" height="7.00" fill="#d77270"/><rect x="325.80" y="391.30" width="5.28" height="7.00" fill="#4e86c2"/><rect x="331.08" y="391.30" width="5.28" height="7.00" fill="#7aa4d2"/><rect x="337.56" y="391.30" width="5.28" height="7.00" fill="#4e86c2"/><rect x="342.84" y="391.30" width="5.28" height="7.00" fill="#aac6e5"/><rect x="348.12" y="391.30" width="5.28" height="7.00" fill="#c85052"/><rect x="353.40" y="391.30" width="5.28" height="7.00" fill="#7aa4d2"/><rect x="358.68" y="391.30" width="5.28" height="7.00" fill="#c85052"/><rect x="363.96" y="391.30" width="5.28" height="7.00" fill="#aac6e5"/><rect x="369.24" y="391.30" width="5.28" height="7.00" fill="#7aa4d2"/><rect x="374.52" y="391.30" width="5.28" height="7.00" fill="#4e86c2"/><rect x="379.80" y="391.30" width="5.28" height="7.00" fill="#aac6e5"/><rect x="385.08" y="391.30" width="5.28" height="7.00" fill="#7aa4d2"/><rect x="390.36" y="391.30" width="5.28" height="7.00" fill="#d4e3f2"/><path d="M273.00 23.2V398.30M278.28 23.2V398.30M283.56 23.2V398.30M288.84 23.2V398.30M294.12 23.2V398.30M299.40 23.2V398.30M304.68 23.2V398.30M309.96 23.2V398.30M315.24 23.2V398.30M320.52 23.2V398.30M325.80 23.2V398.30M331.08 23.2V398.30M336.36 23.2V398.30M337.56 23.2V398.30M342.84 23.2V398.30M348.12 23.2V398.30M353.40 23.2V398.30M358.68 23.2V398.30M363.96 23.2V398.30M369.24 23.2V398.30M374.52 23.2V398.30M379.80 23.2V398.30M385.08 23.2V398.30M390.36 23.2V398.30M395.64 23.2V398.30M273.0 27.30H336.36M337.56 27.30H395.64M273.0 34.30H336.36M337.56 34.30H395.64M273.0 41.30H336.36M337.56 41.30H395.64M273.0 48.30H336.36M337.56 48.30H395.64M273.0 55.30H336.36M337.56 55.30H395.64M273.0 62.30H336.36M337.56 62.30H395.64M273.0 69.30H336.36M337.56 69.30H395.64M273.0 76.30H336.36M337.56 76.30H395.64M273.0 83.30H336.36M337.56 83.30H395.64M273.0 90.30H336.36M337.56 90.30H395.64M273.0 97.30H336.36M337.56 97.30H395.64M273.0 104.30H336.36M337.56 104.30H395.64M273.0 111.30H336.36M337.56 111.30H395.64M273.0 118.30H336.36M337.56 118.30H395.64M273.0 125.30H336.36M337.56 125.30H395.64M273.0 132.30H336.36M337.56 132.30H395.64M273.0 139.30H336.36M337.56 139.30H395.64M273.0 146.30H336.36M337.56 146.30H395.64M273.0 153.30H336.36M337.56 153.30H395.64M273.0 160.30H336.36M337.56 160.30H395.64M273.0 167.30H336.36M337.56 167.30H395.64M273.0 174.30H336.36M337.56 174.30H395.64M273.0 181.30H336.36M337.56 181.30H395.64M273.0 188.30H336.36M337.56 188.30H395.64M273.0 195.30H336.36M337.56 195.30H395.64M273.0 202.30H336.36M337.56 202.30H395.64M273.0 209.30H336.36M337.56 209.30H395.64M273.0 216.30H336.36M337.56 216.30H395.64M273.0 223.30H336.36M337.56 223.30H395.64M273.0 230.30H336.36M337.56 230.30H395.64M273.0 237.30H336.36M337.56 237.30H395.64M273.0 244.30H336.36M337.56 244.30H395.64M273.0 251.30H336.36M337.56 251.30H395.64M273.0 258.30H336.36M337.56 258.30H395.64M273.0 265.30H336.36M337.56 265.30H395.64M273.0 272.30H336.36M337.56 272.30H395.64M273.0 279.30H336.36M337.56 279.30H395.64M273.0 286.30H336.36M337.56 286.30H395.64M273.0 293.30H336.36M337.56 293.30H395.64M273.0 300.30H336.36M337.56 300.30H395.64M273.0 307.30H336.36M337.56 307.30H395.64M273.0 314.30H336.36M337.56 314.30H395.64M273.0 321.30H336.36M337.56 321.30H395.64M273.0 328.30H336.36M337.56 328.30H395.64M273.0 335.30H336.36M337.56 335.30H395.64M273.0 342.30H336.36M337.56 342.30H395.64M273.0 349.30H336.36M337.56 349.30H395.64M273.0 356.30H336.36M337.56 356.30H395.64M273.0 363.30H336.36M337.56 363.30H395.64M273.0 370.30H336.36M337.56 370.30H395.64M273.0 377.30H336.36M337.56 377.30H395.64M273.0 384.30H336.36M337.56 384.30H395.64M273.0 391.30H336.36M337.56 391.30H395.64M273.0 398.30H336.36M337.56 398.30H395.64M273.0 23.2H336.36M337.56 23.2H395.64" stroke="#000" stroke-opacity="0.5" stroke-width="0.9" fill="none"/><text x="398.60" y="27.41" font-size="6.0" text-anchor="start" font-weight="normal" fill="#111" stroke="#111" stroke-width="0.1" >Storage duration</text><text x="398.60" y="32.96" font-size="6.0" text-anchor="start" font-weight="normal" fill="#111" stroke="#111" stroke-width="0.1" >Pyruvate</text><text x="398.60" y="39.96" font-size="6.0" text-anchor="start" font-weight="normal" fill="#111" stroke="#111" stroke-width="0.1" >Quinolinic Acid</text><text x="398.60" y="46.96" font-size="6.0" text-anchor="start" font-weight="normal" fill="#111" stroke="#111" stroke-width="0.1" >Lactate</text><text x="398.60" y="53.96" font-size="6.0" text-anchor="start" font-weight="normal" fill="#111" stroke="#111" stroke-width="0.1" >Citrate</text><text x="398.60" y="60.96" font-size="6.0" text-anchor="start" font-weight="normal" fill="#111" stroke="#111" stroke-width="0.1" >GTP</text><text x="398.60" y="67.96" font-size="6.0" text-anchor="start" font-weight="normal" fill="#111" stroke="#111" stroke-width="0.1" >Urate</text><text x="398.60" y="74.96" font-size="6.0" text-anchor="start" font-weight="normal" fill="#111" stroke="#111" stroke-width="0.1" >L-Methionine</text><text x="398.60" y="81.96" font-size="6.0" text-anchor="start" font-weight="normal" fill="#111" stroke="#111" stroke-width="0.1" >Malate</text><text x="398.60" y="88.96" font-size="6.0" text-anchor="start" font-weight="normal" fill="#111" stroke="#111" stroke-width="0.1" >ATP</text><text x="398.60" y="95.96" font-size="6.0" text-anchor="start" font-weight="normal" fill="#111" stroke="#111" stroke-width="0.1" >Succinate</text><text x="398.60" y="102.96" font-size="6.0" text-anchor="start" font-weight="normal" fill="#111" stroke="#111" stroke-width="0.1" >AMP</text><text x="398.60" y="109.96" font-size="6.0" text-anchor="start" font-weight="normal" fill="#111" stroke="#111" stroke-width="0.1" >D-Glucose-6-Phosphate</text><text x="398.60" y="116.96" font-size="6.0" text-anchor="start" font-weight="normal" fill="#111" stroke="#111" stroke-width="0.1" >D-Fructose-1,6-Bisphosphate</text><text x="398.60" y="123.96" font-size="6.0" text-anchor="start" font-weight="normal" fill="#111" stroke="#111" stroke-width="0.1" >D-Glyceraldehyde-3-Phosphate</text><text x="398.60" y="130.96" font-size="6.0" text-anchor="start" font-weight="normal" fill="#111" stroke="#111" stroke-width="0.1" >6-Phospho-D-Gluconate</text><text x="398.60" y="137.96" font-size="6.0" text-anchor="start" font-weight="normal" fill="#111" stroke="#111" stroke-width="0.1" >D-Ribulose-5-Phosphate</text><text x="398.60" y="144.96" font-size="6.0" text-anchor="start" font-weight="normal" fill="#111" stroke="#111" stroke-width="0.1" >Oxaloacetate</text><text x="398.60" y="151.96" font-size="6.0" text-anchor="start" font-weight="normal" fill="#111" stroke="#111" stroke-width="0.1" >Hypotaurine</text><text x="398.60" y="158.96" font-size="6.0" text-anchor="start" font-weight="normal" fill="#111" stroke="#111" stroke-width="0.1" >L-Cysteine</text><text x="398.60" y="165.96" font-size="6.0" text-anchor="start" font-weight="normal" fill="#111" stroke="#111" stroke-width="0.1" >Taurine</text><text x="398.60" y="172.96" font-size="6.0" text-anchor="start" font-weight="normal" fill="#111" stroke="#111" stroke-width="0.1" >GMP</text><text x="398.60" y="179.96" font-size="6.0" text-anchor="start" font-weight="normal" fill="#111" stroke="#111" stroke-width="0.1" >IMP</text><text x="398.60" y="186.96" font-size="6.0" text-anchor="start" font-weight="normal" fill="#111" stroke="#111" stroke-width="0.1" >2,3-Phospho-D-Glycerate</text><text x="398.60" y="193.96" font-size="6.0" text-anchor="start" font-weight="normal" fill="#111" stroke="#111" stroke-width="0.1" >GDP</text><text x="398.60" y="200.96" font-size="6.0" text-anchor="start" font-weight="normal" fill="#111" stroke="#111" stroke-width="0.1" >L-Glutamine</text><text x="398.60" y="207.96" font-size="6.0" text-anchor="start" font-weight="normal" fill="#111" stroke="#111" stroke-width="0.1" >L-Glutamate</text><text x="398.60" y="214.96" font-size="6.0" text-anchor="start" font-weight="normal" fill="#111" stroke="#111" stroke-width="0.1" >ADP</text><text x="398.60" y="221.96" font-size="6.0" text-anchor="start" font-weight="normal" fill="#111" stroke="#111" stroke-width="0.1" >Hypoxanthine</text><text x="398.60" y="228.96" font-size="6.0" text-anchor="start" font-weight="normal" fill="#111" stroke="#111" stroke-width="0.1" >Eicosapentaenoic Acid</text><text x="398.60" y="235.96" font-size="6.0" text-anchor="start" font-weight="normal" fill="#111" stroke="#111" stroke-width="0.1" >Ornithine</text><text x="398.60" y="242.96" font-size="6.0" text-anchor="start" font-weight="normal" fill="#111" stroke="#111" stroke-width="0.1" >2-Oxoglutarate</text><text x="398.60" y="249.96" font-size="6.0" text-anchor="start" font-weight="normal" fill="#111" stroke="#111" stroke-width="0.1" >Anthranilate</text><text x="398.60" y="256.96" font-size="6.0" text-anchor="start" font-weight="normal" fill="#111" stroke="#111" stroke-width="0.1" >Acyl C5:1</text><text x="398.60" y="263.96" font-size="6.0" text-anchor="start" font-weight="normal" fill="#111" stroke="#111" stroke-width="0.1" >Acyl C4-OH</text><text x="398.60" y="270.96" font-size="6.0" text-anchor="start" font-weight="normal" fill="#111" stroke="#111" stroke-width="0.1" >L-Citrulline</text><text x="398.60" y="277.96" font-size="6.0" text-anchor="start" font-weight="normal" fill="#111" stroke="#111" stroke-width="0.1" >Acetylcholine</text><text x="398.60" y="284.96" font-size="6.0" text-anchor="start" font-weight="normal" fill="#111" stroke="#111" stroke-width="0.1" >Spermidine</text><text x="398.60" y="291.96" font-size="6.0" text-anchor="start" font-weight="normal" fill="#111" stroke="#111" stroke-width="0.1" >Creatine</text><text x="398.60" y="298.96" font-size="6.0" text-anchor="start" font-weight="normal" fill="#111" stroke="#111" stroke-width="0.1" >Epinephrine</text><text x="398.60" y="305.96" font-size="6.0" text-anchor="start" font-weight="normal" fill="#111" stroke="#111" stroke-width="0.1" >Acetylcarnitine (Acyl C2)</text><text x="398.60" y="312.96" font-size="6.0" text-anchor="start" font-weight="normal" fill="#111" stroke="#111" stroke-width="0.1" >Serotonin</text><text x="398.60" y="319.96" font-size="6.0" text-anchor="start" font-weight="normal" fill="#111" stroke="#111" stroke-width="0.1" >L-Arginine</text><text x="398.60" y="326.96" font-size="6.0" text-anchor="start" font-weight="normal" fill="#111" stroke="#111" stroke-width="0.1" >L-Carnitine</text><text x="398.60" y="333.96" font-size="6.0" text-anchor="start" font-weight="normal" fill="#111" stroke="#111" stroke-width="0.1" >Xanthine</text><text x="398.60" y="340.96" font-size="6.0" text-anchor="start" font-weight="normal" fill="#111" stroke="#111" stroke-width="0.1" >Adenosine</text><text x="398.60" y="347.96" font-size="6.0" text-anchor="start" font-weight="normal" fill="#111" stroke="#111" stroke-width="0.1" >Adenine</text><text x="398.60" y="354.96" font-size="6.0" text-anchor="start" font-weight="normal" fill="#111" stroke="#111" stroke-width="0.1" >Octadecanoic Acid (Stearic Acid)</text><text x="398.60" y="361.96" font-size="6.0" text-anchor="start" font-weight="normal" fill="#111" stroke="#111" stroke-width="0.1" >Tetradecanoic Acid (Myristic Acid)</text><text x="398.60" y="368.96" font-size="6.0" text-anchor="start" font-weight="normal" fill="#111" stroke="#111" stroke-width="0.1" >Hexadecanoic Acid (Palmitic Acid)</text><text x="398.60" y="375.96" font-size="6.0" text-anchor="start" font-weight="normal" fill="#111" stroke="#111" stroke-width="0.1" >Dodecanedioic Acid</text><text x="398.60" y="382.96" font-size="6.0" text-anchor="start" font-weight="normal" fill="#111" stroke="#111" stroke-width="0.1" >Octanoic Acid (Caprylate)</text><text x="398.60" y="389.96" font-size="6.0" text-anchor="start" font-weight="normal" fill="#111" stroke="#111" stroke-width="0.1" >Nonanoic Acid (Pelargonate)</text><text x="398.60" y="396.96" font-size="6.0" text-anchor="start" font-weight="normal" fill="#111" stroke="#111" stroke-width="0.1" >Decanoic Acid (Caprate)</text><path d="M255.1 148.6V308.2" stroke="#9a9a9a" stroke-width="0.9" fill="none"/><path d="M255.1 148.6H266.6" stroke="#9a9a9a" stroke-width="0.9" fill="none"/><path d="M266.6 92.4V205.4" stroke="#9a9a9a" stroke-width="0.9" fill="none"/><path d="M266.6 92.4H271.3" stroke="#9a9a9a" stroke-width="0.9" fill="none"/><path d="M266.6 205.4H270.2" stroke="#9a9a9a" stroke-width="0.9" fill="none"/><path d="M255.1 308.2H259" stroke="#9a9a9a" stroke-width="0.9" fill="none"/><path d="M259 263.4V352.9" stroke="#9a9a9a" stroke-width="0.9" fill="none"/><path d="M259 263.4H272.4" stroke="#9a9a9a" stroke-width="0.9" fill="none"/><path d="M259 352.9H270.2" stroke="#9a9a9a" stroke-width="0.9" fill="none"/><path d="M272.5 30.5V396" stroke="#555" stroke-width="0.7" fill="none"/><path d="M271.3 92.4V150" stroke="#555" stroke-width="0.7" fill="none"/><path d="M271.9 30.5V92.4" stroke="#555" stroke-width="0.7" fill="none"/><path d="M272.3 112V141" stroke="#555" stroke-width="0.7" fill="none"/><path d="M270.2 190V250" stroke="#555" stroke-width="0.7" fill="none"/><path d="M271.6 205V240" stroke="#555" stroke-width="0.7" fill="none"/><path d="M272.4 250V300" stroke="#555" stroke-width="0.7" fill="none"/><path d="M272.4 263.4V275" stroke="#555" stroke-width="0.7" fill="none"/><path d="M270.2 332V392" stroke="#555" stroke-width="0.7" fill="none"/><path d="M271.5 340V390" stroke="#555" stroke-width="0.7" fill="none"/><path d="M271.9 30.5H273" stroke="#555" stroke-width="0.7" fill="none"/><path d="M271.9 45H273" stroke="#555" stroke-width="0.7" fill="none"/><path d="M271.9 60H273" stroke="#555" stroke-width="0.7" fill="none"/><path d="M271.9 75H273" stroke="#555" stroke-width="0.7" fill="none"/><path d="M271.3 100H273" stroke="#555" stroke-width="0.7" fill="none"/><path d="M271.3 120H273" stroke="#555" stroke-width="0.7" fill="none"/><path d="M271.3 135H273" stroke="#555" stroke-width="0.7" fill="none"/><path d="M270.2 200H273" stroke="#555" stroke-width="0.7" fill="none"/><path d="M270.2 215H273" stroke="#555" stroke-width="0.7" fill="none"/><path d="M270.2 230H273" stroke="#555" stroke-width="0.7" fill="none"/><path d="M270.2 245H273" stroke="#555" stroke-width="0.7" fill="none"/><path d="M272.4 280H273" stroke="#555" stroke-width="0.7" fill="none"/><path d="M272.4 295H273" stroke="#555" stroke-width="0.7" fill="none"/><path d="M270.2 336H273" stroke="#555" stroke-width="0.7" fill="none"/><path d="M270.2 350H273" stroke="#555" stroke-width="0.7" fill="none"/><path d="M270.2 365H273" stroke="#555" stroke-width="0.7" fill="none"/><path d="M270.2 380H273" stroke="#555" stroke-width="0.7" fill="none"/><path d="M270.2 391H273" stroke="#555" stroke-width="0.7" fill="none"/><rect x="459.2" y="23.0" width="3.2" height="51.8" fill="url(#rwb)"/><text x="465.00" y="24.30" font-size="6.0" text-anchor="start" font-weight="normal" fill="#111" stroke="#111" stroke-width="0.1" >High</text><text x="465.00" y="76.30" font-size="6.0" text-anchor="start" font-weight="normal" fill="#111" stroke="#111" stroke-width="0.1" >Low</text><rect x="458.4" y="83.7" width="5.3" height="5.3" fill="#2e9fd6" stroke="#444" stroke-width="0.7"/><rect x="458.4" y="93.5" width="5.3" height="5.3" fill="#ef9426" stroke="#555" stroke-width="0.6"/><text x="467.70" y="88.51" font-size="6.0" text-anchor="start" font-weight="normal" fill="#111" stroke="#111" stroke-width="0.1" >Short-term stored</text><text x="467.70" y="98.31" font-size="6.0" text-anchor="start" font-weight="normal" fill="#111" stroke="#111" stroke-width="0.1" >Long-term stored</text><rect x="0.5" y="0.5" width="519.0" height="462.0" fill="none" stroke="#444" stroke-width="1.0"/></svg>
</body></html>
